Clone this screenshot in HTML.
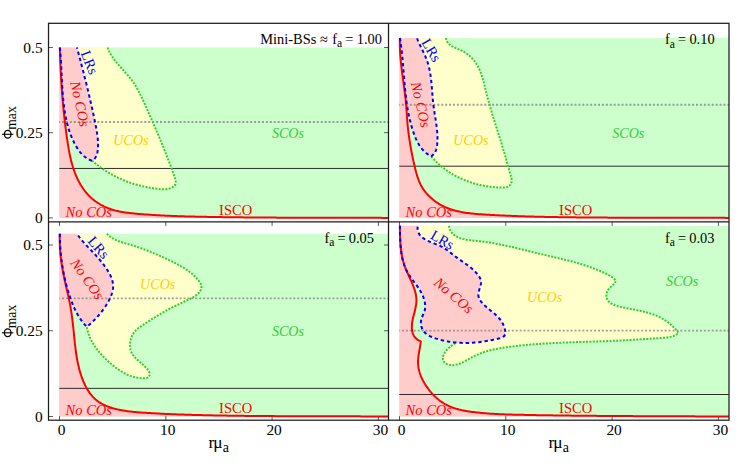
<!DOCTYPE html>
<html><head><meta charset="utf-8"><title>Compact orbits phase diagram</title>
<style>
html,body{margin:0;padding:0;background:#fff;}
body{width:748px;height:467px;overflow:hidden;font-family:"Liberation Serif",serif;}
svg{display:block;}
svg text{font-family:"Liberation Serif",serif;}
</style></head><body>
<svg width="748" height="467" viewBox="0 0 748 467" font-family="Liberation Serif, serif">
<rect width="748" height="467" fill="#fff"/>
<g><rect x="59.3" y="47.5" width="329.2" height="170.4" fill="#ccffcc"/>
<path d="M107.50,47.50 L108.05,48.93 L108.65,50.33 L109.30,51.70 L109.99,53.04 L110.73,54.35 L111.51,55.63 L112.32,56.89 L113.17,58.13 L114.04,59.35 L114.95,60.55 L115.88,61.73 L116.83,62.90 L117.80,64.06 L118.79,65.21 L119.79,66.35 L120.80,67.48 L121.81,68.61 L122.83,69.74 L123.85,70.87 L124.87,72.00 L125.88,73.13 L126.88,74.27 L127.88,75.41 L128.85,76.57 L129.82,77.74 L130.76,78.92 L131.67,80.12 L132.56,81.33 L133.43,82.56 L134.27,83.81 L135.08,85.08 L135.87,86.36 L136.64,87.65 L137.39,88.96 L138.12,90.28 L138.84,91.61 L139.53,92.95 L140.22,94.30 L140.89,95.66 L141.55,97.03 L142.19,98.40 L142.83,99.77 L143.47,101.16 L144.09,102.54 L144.71,103.93 L145.33,105.31 L145.95,106.70 L146.56,108.09 L147.17,109.48 L147.79,110.86 L148.40,112.25 L149.01,113.63 L149.62,115.02 L150.23,116.40 L150.84,117.79 L151.44,119.17 L152.05,120.56 L152.65,121.94 L153.26,123.33 L153.86,124.71 L154.46,126.10 L155.05,127.49 L155.65,128.87 L156.24,130.26 L156.84,131.64 L157.43,133.03 L158.01,134.42 L158.60,135.81 L159.19,137.20 L159.77,138.59 L160.35,139.98 L160.93,141.37 L161.50,142.76 L162.07,144.16 L162.64,145.55 L163.21,146.95 L163.78,148.34 L164.34,149.74 L164.90,151.14 L165.46,152.54 L166.01,153.95 L166.56,155.35 L167.11,156.75 L167.66,158.16 L168.20,159.57 L168.74,160.98 L169.28,162.39 L169.81,163.81 L170.34,165.22 L170.87,166.64 L171.39,168.06 L171.91,169.48 L172.43,170.92 L172.94,172.37 L173.46,173.84 L173.99,175.34 L174.51,176.88 L175.03,178.45 L175.46,180.02 L175.74,181.54 L175.77,182.96 L175.47,184.25 L174.80,185.36 L173.84,186.31 L172.71,187.10 L171.50,187.74 L170.21,188.26 L168.86,188.66 L167.45,188.94 L166.00,189.13 L164.50,189.23 L162.97,189.25 L161.42,189.20 L159.85,189.10 L158.26,188.95 L156.68,188.76 L155.09,188.55 L153.52,188.33 L151.96,188.08 L150.40,187.83 L148.86,187.55 L147.33,187.26 L145.81,186.96 L144.30,186.64 L142.80,186.30 L141.31,185.95 L139.83,185.58 L138.35,185.20 L136.89,184.80 L135.44,184.38 L134.00,183.95 L132.56,183.50 L131.14,183.03 L129.73,182.55 L128.32,182.05 L126.92,181.53 L125.53,181.00 L124.15,180.45 L122.78,179.88 L121.42,179.29 L120.07,178.69 L118.72,178.07 L117.38,177.43 L116.05,176.78 L114.73,176.10 L113.42,175.41 L112.11,174.70 L110.82,173.97 L109.53,173.22 L108.24,172.46 L106.97,171.68 L105.70,170.87 L104.44,170.05 L103.18,169.21 L101.94,168.36 L100.70,167.48 L99.46,166.58 L98.24,165.67 L97.02,164.73 L95.80,163.78 L94.60,162.81 L93.39,161.81 L92.20,160.80 L85.0,100.0 L70.0,47.5 Z" fill="#ffffcc"/>
<path d="M59.80,47.50 L59.96,48.93 L60.11,50.37 L60.25,51.81 L60.38,53.27 L60.50,54.74 L60.62,56.21 L60.73,57.69 L60.83,59.17 L60.93,60.67 L61.02,62.17 L61.11,63.68 L61.19,65.19 L61.27,66.71 L61.35,68.23 L61.42,69.76 L61.49,71.29 L61.57,72.83 L61.64,74.37 L61.71,75.92 L61.78,77.46 L61.86,79.01 L61.93,80.57 L62.01,82.12 L62.09,83.68 L62.18,85.23 L62.27,86.79 L62.36,88.35 L62.46,89.91 L62.57,91.47 L62.68,93.03 L62.80,94.58 L62.92,96.14 L63.06,97.70 L63.20,99.25 L63.35,100.80 L63.52,102.35 L63.69,103.89 L63.87,105.43 L64.07,106.97 L64.28,108.51 L64.50,110.04 L64.73,111.56 L64.98,113.08 L65.24,114.60 L65.52,116.11 L65.82,117.61 L66.13,119.11 L66.45,120.60 L66.80,122.08 L67.16,123.55 L67.54,125.02 L67.94,126.48 L68.36,127.93 L68.81,129.37 L69.27,130.80 L69.75,132.23 L70.26,133.64 L70.78,135.04 L71.34,136.43 L71.91,137.81 L72.51,139.18 L73.13,140.54 L73.79,141.88 L74.46,143.22 L75.16,144.54 L75.90,145.84 L76.65,147.14 L77.44,148.41 L78.27,149.66 L79.13,150.88 L80.04,152.06 L80.99,153.20 L81.99,154.30 L83.05,155.35 L84.16,156.34 L85.33,157.27 L86.56,158.13 L87.86,158.92 L89.23,159.63 L90.68,160.26 L92.20,160.80 L92.20,160.80 L93.42,159.91 L94.45,158.90 L95.32,157.79 L96.03,156.59 L96.61,155.30 L97.07,153.94 L97.41,152.53 L97.67,151.07 L97.85,149.58 L97.96,148.07 L98.03,146.55 L98.05,145.03 L98.04,143.50 L97.98,141.97 L97.89,140.43 L97.77,138.89 L97.61,137.35 L97.43,135.80 L97.23,134.26 L97.00,132.71 L96.75,131.16 L96.48,129.61 L96.20,128.07 L95.91,126.53 L95.61,124.99 L95.30,123.45 L94.98,121.91 L94.67,120.38 L94.35,118.86 L94.03,117.34 L93.71,115.82 L93.38,114.31 L93.06,112.80 L92.73,111.29 L92.40,109.79 L92.07,108.29 L91.74,106.79 L91.41,105.30 L91.07,103.80 L90.73,102.32 L90.39,100.83 L90.05,99.34 L89.71,97.86 L89.36,96.38 L89.01,94.90 L88.66,93.42 L88.31,91.95 L87.96,90.47 L87.61,89.00 L87.25,87.53 L86.89,86.05 L86.53,84.58 L86.17,83.11 L85.80,81.64 L85.44,80.17 L85.07,78.70 L84.70,77.23 L84.33,75.75 L83.95,74.28 L83.58,72.81 L83.20,71.34 L82.82,69.86 L82.44,68.38 L82.06,66.91 L81.67,65.43 L81.28,63.95 L80.89,62.46 L80.50,60.98 L80.11,59.49 L79.72,58.00 L79.32,56.51 L78.92,55.02 L78.52,53.52 L78.12,52.02 L77.71,50.52 L77.31,49.01 L76.90,47.50 Z" fill="#ffcccc"/>
<path d="M59.80,47.50 L59.84,49.01 L59.89,50.51 L59.93,52.02 L59.98,53.52 L60.03,55.03 L60.09,56.53 L60.14,58.04 L60.20,59.54 L60.26,61.05 L60.32,62.55 L60.39,64.06 L60.45,65.56 L60.52,67.07 L60.59,68.57 L60.67,70.07 L60.74,71.58 L60.82,73.08 L60.90,74.59 L60.99,76.09 L61.07,77.59 L61.16,79.10 L61.25,80.60 L61.35,82.10 L61.44,83.60 L61.54,85.11 L61.64,86.61 L61.75,88.11 L61.86,89.61 L61.97,91.11 L62.08,92.62 L62.19,94.12 L62.31,95.62 L62.43,97.12 L62.56,98.62 L62.69,100.12 L62.82,101.62 L62.95,103.12 L63.09,104.62 L63.23,106.11 L63.37,107.61 L63.51,109.11 L63.66,110.61 L63.82,112.11 L63.97,113.60 L64.13,115.10 L64.29,116.59 L64.46,118.09 L64.62,119.59 L64.80,121.08 L64.97,122.58 L65.15,124.07 L65.33,125.56 L65.52,127.06 L65.70,128.55 L65.90,130.04 L66.09,131.53 L66.29,133.03 L66.49,134.52 L66.70,136.01 L66.91,137.50 L67.12,138.99 L67.34,140.48 L67.56,141.96 L67.79,143.45 L68.02,144.94 L68.26,146.42 L68.51,147.91 L68.76,149.39 L69.03,150.87 L69.31,152.35 L69.60,153.83 L69.90,155.30 L70.21,156.77 L70.55,158.24 L70.89,159.70 L71.26,161.17 L71.64,162.62 L72.04,164.08 L72.46,165.53 L72.90,166.98 L73.36,168.42 L73.85,169.85 L74.36,171.28 L74.89,172.71 L75.45,174.12 L76.03,175.53 L76.63,176.92 L77.26,178.30 L77.92,179.67 L78.60,181.03 L79.31,182.36 L80.05,183.69 L80.81,184.99 L81.60,186.27 L82.42,187.53 L83.27,188.78 L84.15,189.99 L85.05,191.19 L85.99,192.36 L86.96,193.50 L87.96,194.61 L88.98,195.70 L90.05,196.75 L91.14,197.77 L92.26,198.77 L93.42,199.72 L94.60,200.65 L95.81,201.54 L97.05,202.40 L98.31,203.22 L99.59,204.01 L100.90,204.77 L102.23,205.49 L103.57,206.18 L104.93,206.83 L106.31,207.44 L107.70,208.02 L109.11,208.56 L110.52,209.06 L111.95,209.53 L113.39,209.96 L114.83,210.37 L116.29,210.74 L117.75,211.08 L119.22,211.40 L120.69,211.69 L122.18,211.96 L123.66,212.20 L125.15,212.43 L126.65,212.64 L128.15,212.84 L129.65,213.02 L131.15,213.18 L132.66,213.34 L134.16,213.49 L135.67,213.63 L137.17,213.76 L138.68,213.90 L140.18,214.02 L141.69,214.15 L143.19,214.26 L144.69,214.38 L146.20,214.49 L147.70,214.60 L149.20,214.70 L150.71,214.81 L152.21,214.90 L153.71,215.00 L155.21,215.09 L156.72,215.18 L158.22,215.27 L159.72,215.35 L161.23,215.43 L162.73,215.51 L164.23,215.58 L165.74,215.65 L167.24,215.72 L168.74,215.79 L170.25,215.85 L171.75,215.92 L173.25,215.98 L174.76,216.04 L176.26,216.09 L177.76,216.14 L179.27,216.20 L180.77,216.25 L182.27,216.29 L183.78,216.34 L185.28,216.38 L186.78,216.43 L188.29,216.47 L189.79,216.51 L191.29,216.55 L192.80,216.58 L194.30,216.62 L195.81,216.65 L197.31,216.69 L198.81,216.72 L200.32,216.75 L201.82,216.78 L203.32,216.81 L204.83,216.84 L206.33,216.87 L207.84,216.89 L209.34,216.92 L210.85,216.95 L212.35,216.97 L213.85,217.00 L215.36,217.02 L216.86,217.04 L218.37,217.07 L219.87,217.09 L221.38,217.11 L222.88,217.13 L224.39,217.16 L225.89,217.18 L227.40,217.20 L228.90,217.22 L230.41,217.24 L231.91,217.25 L233.42,217.27 L234.92,217.29 L236.43,217.31 L237.93,217.32 L239.44,217.34 L240.94,217.36 L242.45,217.37 L243.95,217.39 L245.46,217.40 L246.97,217.42 L248.47,217.43 L249.98,217.44 L251.48,217.46 L252.99,217.47 L254.49,217.48 L256.00,217.50 L257.50,217.51 L259.01,217.52 L260.52,217.53 L262.02,217.54 L263.53,217.55 L265.03,217.56 L266.54,217.57 L268.04,217.58 L269.55,217.59 L271.06,217.60 L272.56,217.61 L274.07,217.61 L275.57,217.62 L277.08,217.63 L278.59,217.64 L280.09,217.64 L281.60,217.65 L283.10,217.66 L284.61,217.66 L286.12,217.67 L287.62,217.68 L289.13,217.68 L290.63,217.69 L292.14,217.69 L293.65,217.70 L295.15,217.70 L296.66,217.71 L298.16,217.71 L299.67,217.72 L301.18,217.72 L302.68,217.72 L304.19,217.73 L305.70,217.73 L307.20,217.74 L308.71,217.74 L310.21,217.74 L311.72,217.75 L313.23,217.75 L314.73,217.75 L316.24,217.75 L317.74,217.76 L319.25,217.76 L320.76,217.76 L322.26,217.76 L323.77,217.77 L325.27,217.77 L326.78,217.77 L328.29,217.77 L329.79,217.78 L331.30,217.78 L332.80,217.78 L334.31,217.78 L335.82,217.78 L337.32,217.79 L338.83,217.79 L340.33,217.79 L341.84,217.79 L343.34,217.80 L344.85,217.80 L346.36,217.80 L347.86,217.80 L349.37,217.80 L350.87,217.81 L352.38,217.81 L353.88,217.81 L355.39,217.81 L356.89,217.82 L358.40,217.82 L359.91,217.82 L361.41,217.82 L362.92,217.83 L364.42,217.83 L365.93,217.83 L367.43,217.84 L368.94,217.84 L370.44,217.84 L371.95,217.85 L373.45,217.85 L374.96,217.86 L376.46,217.86 L377.97,217.86 L379.47,217.87 L380.98,217.87 L382.48,217.88 L383.99,217.88 L385.49,217.89 L387.00,217.89 L388.50,217.90 L388.5,217.9 L59.3,217.9 L59.3,47.5 Z" fill="#ffcccc"/></g>
<g><rect x="399.3" y="38.0" width="329.7" height="179.9" fill="#ccffcc"/>
<path d="M445.80,38.00 L446.30,39.70 L446.95,41.19 L447.73,42.49 L448.64,43.63 L449.66,44.62 L450.77,45.49 L451.97,46.26 L453.24,46.95 L454.56,47.58 L455.93,48.18 L457.33,48.76 L458.74,49.36 L460.16,49.98 L461.57,50.66 L462.96,51.39 L464.32,52.18 L465.66,53.03 L466.96,53.92 L468.22,54.86 L469.43,55.84 L470.59,56.87 L471.70,57.93 L472.74,59.03 L473.72,60.16 L474.65,61.33 L475.52,62.52 L476.34,63.75 L477.11,65.00 L477.83,66.28 L478.51,67.58 L479.15,68.91 L479.76,70.26 L480.32,71.63 L480.86,73.01 L481.36,74.42 L481.84,75.83 L482.29,77.27 L482.72,78.71 L483.14,80.17 L483.54,81.63 L483.92,83.10 L484.29,84.58 L484.66,86.06 L485.02,87.55 L485.38,89.03 L485.74,90.52 L486.11,92.00 L486.48,93.48 L486.85,94.96 L487.24,96.44 L487.62,97.91 L488.02,99.38 L488.42,100.84 L488.82,102.30 L489.23,103.76 L489.65,105.22 L490.06,106.68 L490.49,108.13 L490.91,109.58 L491.34,111.03 L491.77,112.47 L492.21,113.92 L492.65,115.36 L493.09,116.80 L493.54,118.24 L493.98,119.68 L494.43,121.11 L494.88,122.55 L495.33,123.98 L495.78,125.42 L496.23,126.85 L496.69,128.28 L497.14,129.71 L497.60,131.14 L498.05,132.58 L498.50,134.01 L498.95,135.44 L499.41,136.87 L499.86,138.30 L500.31,139.73 L500.75,141.16 L501.20,142.59 L501.64,144.02 L502.09,145.45 L502.52,146.89 L502.96,148.32 L503.39,149.76 L503.82,151.20 L504.25,152.63 L504.67,154.07 L505.09,155.51 L505.50,156.96 L505.91,158.40 L506.31,159.85 L506.71,161.30 L507.11,162.75 L507.49,164.20 L507.88,165.66 L508.28,167.12 L508.68,168.60 L509.10,170.09 L509.54,171.59 L510.00,173.12 L510.48,174.66 L510.95,176.21 L511.35,177.75 L511.62,179.27 L511.69,180.75 L511.52,182.17 L511.10,183.49 L510.44,184.66 L509.56,185.61 L508.48,186.34 L507.23,186.88 L505.84,187.26 L504.34,187.49 L502.76,187.60 L501.12,187.61 L499.46,187.56 L497.80,187.45 L496.17,187.33 L494.59,187.20 L493.04,187.05 L491.52,186.89 L490.03,186.71 L488.55,186.52 L487.10,186.31 L485.65,186.08 L484.20,185.82 L482.76,185.55 L481.31,185.25 L479.86,184.93 L478.42,184.59 L476.97,184.22 L475.53,183.83 L474.09,183.42 L472.66,182.99 L471.22,182.53 L469.80,182.06 L468.37,181.56 L466.96,181.03 L465.55,180.49 L464.14,179.92 L462.75,179.33 L461.36,178.72 L459.98,178.09 L458.61,177.43 L457.25,176.75 L455.91,176.05 L454.57,175.33 L453.25,174.59 L451.94,173.82 L450.64,173.03 L449.36,172.22 L448.09,171.39 L446.84,170.54 L445.60,169.66 L444.38,168.76 L443.18,167.85 L442.00,166.90 L440.83,165.94 L439.69,164.96 L438.56,163.95 L437.46,162.92 L436.37,161.87 L435.31,160.80 L434.27,159.71 L433.26,158.59 L432.27,157.46 L431.30,156.30 L425.0,100.0 L410.0,38.0 Z" fill="#ffffcc"/>
<path d="M399.90,38.00 L400.14,39.47 L400.38,40.95 L400.60,42.43 L400.81,43.92 L401.01,45.41 L401.21,46.90 L401.40,48.40 L401.58,49.90 L401.75,51.40 L401.91,52.91 L402.07,54.42 L402.23,55.93 L402.37,57.45 L402.52,58.96 L402.66,60.48 L402.79,62.01 L402.92,63.53 L403.05,65.06 L403.18,66.59 L403.30,68.11 L403.42,69.65 L403.55,71.18 L403.67,72.71 L403.79,74.24 L403.91,75.78 L404.03,77.31 L404.16,78.85 L404.28,80.38 L404.41,81.92 L404.55,83.45 L404.68,84.99 L404.82,86.52 L404.96,88.06 L405.11,89.59 L405.26,91.12 L405.42,92.65 L405.59,94.18 L405.76,95.71 L405.94,97.24 L406.13,98.76 L406.32,100.28 L406.53,101.80 L406.74,103.32 L406.96,104.84 L407.19,106.35 L407.44,107.86 L407.69,109.37 L407.96,110.87 L408.24,112.37 L408.53,113.87 L408.83,115.36 L409.15,116.85 L409.48,118.34 L409.82,119.82 L410.18,121.29 L410.56,122.77 L410.95,124.23 L411.36,125.70 L411.78,127.15 L412.23,128.61 L412.69,130.06 L413.17,131.50 L413.66,132.93 L414.18,134.36 L414.72,135.78 L415.28,137.19 L415.87,138.59 L416.49,139.96 L417.15,141.32 L417.84,142.65 L418.57,143.95 L419.34,145.22 L420.15,146.46 L421.01,147.66 L421.92,148.82 L422.88,149.94 L423.90,151.01 L424.97,152.03 L426.10,153.00 L427.30,153.92 L428.57,154.78 L429.90,155.57 L431.30,156.30 L431.30,156.30 L432.54,155.36 L433.59,154.31 L434.48,153.17 L435.22,151.95 L435.82,150.65 L436.30,149.30 L436.68,147.89 L436.96,146.44 L437.16,144.97 L437.31,143.47 L437.40,141.97 L437.46,140.46 L437.48,138.95 L437.47,137.44 L437.43,135.92 L437.36,134.41 L437.26,132.89 L437.14,131.37 L437.00,129.85 L436.83,128.32 L436.65,126.80 L436.45,125.27 L436.24,123.75 L436.02,122.22 L435.79,120.69 L435.55,119.16 L435.31,117.63 L435.06,116.10 L434.82,114.57 L434.58,113.04 L434.34,111.50 L434.10,109.97 L433.88,108.44 L433.67,106.91 L433.47,105.38 L433.28,103.85 L433.11,102.31 L432.95,100.78 L432.81,99.25 L432.67,97.73 L432.54,96.20 L432.42,94.67 L432.30,93.15 L432.18,91.63 L432.06,90.11 L431.94,88.59 L431.81,87.08 L431.69,85.56 L431.55,84.05 L431.41,82.55 L431.25,81.04 L431.08,79.54 L430.90,78.05 L430.70,76.55 L430.49,75.07 L430.25,73.58 L430.00,72.10 L429.71,70.63 L429.41,69.16 L429.08,67.69 L428.72,66.23 L428.33,64.77 L427.90,63.32 L427.44,61.88 L426.95,60.44 L426.42,59.01 L425.85,57.59 L425.25,56.17 L424.62,54.75 L423.96,53.34 L423.30,51.94 L422.62,50.53 L421.93,49.14 L421.25,47.74 L420.58,46.35 L419.92,44.95 L419.27,43.56 L418.65,42.17 L418.06,40.78 L417.51,39.39 L417.00,38.00 Z" fill="#ffcccc"/>
<path d="M399.90,38.00 L399.85,39.52 L399.83,41.05 L399.82,42.57 L399.82,44.08 L399.84,45.60 L399.87,47.11 L399.92,48.62 L399.99,50.13 L400.06,51.64 L400.15,53.15 L400.25,54.65 L400.36,56.15 L400.48,57.66 L400.61,59.16 L400.75,60.65 L400.90,62.15 L401.05,63.65 L401.22,65.14 L401.39,66.64 L401.56,68.13 L401.74,69.63 L401.93,71.12 L402.12,72.61 L402.32,74.10 L402.51,75.59 L402.72,77.08 L402.92,78.57 L403.12,80.07 L403.33,81.56 L403.53,83.05 L403.73,84.54 L403.94,86.03 L404.14,87.52 L404.33,89.01 L404.53,90.51 L404.72,92.00 L404.91,93.49 L405.09,94.99 L405.27,96.49 L405.44,97.98 L405.60,99.48 L405.76,100.98 L405.91,102.48 L406.05,103.98 L406.18,105.49 L406.30,106.99 L406.42,108.50 L406.53,110.01 L406.63,111.51 L406.73,113.02 L406.83,114.53 L406.94,116.04 L407.04,117.54 L407.15,119.05 L407.26,120.55 L407.38,122.06 L407.51,123.56 L407.65,125.05 L407.80,126.55 L407.95,128.04 L408.12,129.54 L408.29,131.03 L408.47,132.52 L408.66,134.01 L408.85,135.49 L409.06,136.98 L409.27,138.46 L409.49,139.94 L409.72,141.43 L409.95,142.91 L410.20,144.39 L410.45,145.87 L410.70,147.35 L410.97,148.82 L411.24,150.30 L411.52,151.78 L411.81,153.26 L412.10,154.73 L412.41,156.21 L412.71,157.69 L413.03,159.16 L413.35,160.64 L413.68,162.12 L414.01,163.59 L414.36,165.07 L414.70,166.55 L415.06,168.03 L415.43,169.51 L415.81,170.98 L416.20,172.45 L416.62,173.92 L417.05,175.38 L417.51,176.83 L418.00,178.27 L418.51,179.70 L419.06,181.11 L419.65,182.50 L420.29,183.88 L420.97,185.22 L421.70,186.54 L422.47,187.83 L423.29,189.09 L424.15,190.32 L425.05,191.53 L426.00,192.70 L426.97,193.84 L427.99,194.96 L429.04,196.04 L430.12,197.09 L431.24,198.11 L432.38,199.10 L433.55,200.05 L434.75,200.97 L435.97,201.86 L437.22,202.71 L438.49,203.52 L439.78,204.30 L441.09,205.05 L442.41,205.75 L443.76,206.42 L445.11,207.06 L446.48,207.65 L447.86,208.21 L449.25,208.74 L450.66,209.24 L452.08,209.70 L453.50,210.13 L454.94,210.54 L456.39,210.91 L457.84,211.26 L459.31,211.59 L460.78,211.89 L462.26,212.17 L463.75,212.43 L465.24,212.67 L466.74,212.89 L468.24,213.09 L469.75,213.28 L471.26,213.45 L472.78,213.61 L474.29,213.76 L475.81,213.89 L477.34,214.02 L478.86,214.13 L480.38,214.24 L481.91,214.35 L483.43,214.45 L484.95,214.55 L486.48,214.64 L488.00,214.73 L489.52,214.82 L491.03,214.91 L492.55,215.00 L494.07,215.08 L495.58,215.16 L497.09,215.24 L498.60,215.32 L500.12,215.39 L501.63,215.46 L503.14,215.53 L504.64,215.60 L506.15,215.67 L507.66,215.73 L509.17,215.80 L510.67,215.86 L512.18,215.92 L513.68,215.98 L515.18,216.03 L516.69,216.09 L518.19,216.14 L519.69,216.19 L521.19,216.24 L522.69,216.29 L524.19,216.34 L525.69,216.39 L527.20,216.43 L528.70,216.47 L530.19,216.52 L531.69,216.56 L533.19,216.60 L534.69,216.63 L536.19,216.67 L537.69,216.71 L539.19,216.74 L540.69,216.78 L542.19,216.81 L543.69,216.84 L545.19,216.88 L546.69,216.91 L548.19,216.94 L549.69,216.97 L551.19,217.00 L552.69,217.02 L554.19,217.05 L555.70,217.08 L557.20,217.10 L558.70,217.13 L560.20,217.15 L561.71,217.18 L563.21,217.20 L564.71,217.22 L566.22,217.24 L567.72,217.26 L569.22,217.28 L570.73,217.30 L572.23,217.32 L573.74,217.34 L575.24,217.36 L576.75,217.38 L578.25,217.40 L579.76,217.41 L581.26,217.43 L582.77,217.44 L584.27,217.46 L585.78,217.47 L587.29,217.49 L588.79,217.50 L590.30,217.51 L591.81,217.52 L593.31,217.54 L594.82,217.55 L596.33,217.56 L597.84,217.57 L599.34,217.58 L600.85,217.59 L602.36,217.60 L603.87,217.61 L605.38,217.62 L606.88,217.62 L608.39,217.63 L609.90,217.64 L611.41,217.65 L612.92,217.65 L614.43,217.66 L615.94,217.67 L617.45,217.67 L618.95,217.68 L620.46,217.68 L621.97,217.69 L623.48,217.69 L624.99,217.70 L626.50,217.70 L628.01,217.70 L629.52,217.71 L631.03,217.71 L632.54,217.71 L634.05,217.72 L635.56,217.72 L637.07,217.72 L638.58,217.72 L640.09,217.73 L641.60,217.73 L643.10,217.73 L644.61,217.73 L646.12,217.73 L647.63,217.74 L649.14,217.74 L650.65,217.74 L652.16,217.74 L653.67,217.74 L655.18,217.74 L656.69,217.74 L658.20,217.74 L659.71,217.74 L661.22,217.74 L662.73,217.75 L664.24,217.75 L665.75,217.75 L667.25,217.75 L668.76,217.75 L670.27,217.75 L671.78,217.75 L673.29,217.75 L674.80,217.75 L676.31,217.75 L677.81,217.75 L679.32,217.75 L680.83,217.76 L682.34,217.76 L683.85,217.76 L685.35,217.76 L686.86,217.76 L688.37,217.76 L689.88,217.77 L691.38,217.77 L692.89,217.77 L694.40,217.77 L695.90,217.78 L697.41,217.78 L698.92,217.78 L700.42,217.78 L701.93,217.79 L703.44,217.79 L704.94,217.80 L706.45,217.80 L707.95,217.80 L709.46,217.81 L710.96,217.81 L712.47,217.82 L713.97,217.83 L715.47,217.83 L716.98,217.84 L718.48,217.84 L719.98,217.85 L721.49,217.86 L722.99,217.87 L724.49,217.87 L726.00,217.88 L727.50,217.89 L729.00,217.90 L729.0,217.9 L399.3,217.9 L399.3,38.0 Z" fill="#ffcccc"/></g>
<g><rect x="59.3" y="233.7" width="329.2" height="182.8" fill="#ccffcc"/>
<path d="M106.90,233.70 L107.98,234.82 L109.11,235.85 L110.29,236.79 L111.51,237.65 L112.77,238.44 L114.07,239.16 L115.41,239.83 L116.77,240.44 L118.16,241.00 L119.57,241.52 L121.01,242.01 L122.45,242.48 L123.91,242.92 L125.38,243.35 L126.85,243.77 L128.32,244.19 L129.78,244.61 L131.25,245.05 L132.70,245.49 L134.15,245.95 L135.60,246.42 L137.04,246.89 L138.48,247.38 L139.91,247.87 L141.33,248.38 L142.75,248.89 L144.17,249.41 L145.58,249.94 L146.99,250.48 L148.40,251.03 L149.80,251.59 L151.19,252.15 L152.59,252.72 L153.98,253.30 L155.37,253.88 L156.75,254.48 L158.13,255.08 L159.51,255.68 L160.88,256.30 L162.26,256.91 L163.63,257.54 L165.00,258.17 L166.36,258.81 L167.73,259.45 L169.09,260.10 L170.45,260.75 L171.81,261.41 L173.16,262.08 L174.51,262.75 L175.86,263.44 L177.20,264.14 L178.53,264.85 L179.85,265.58 L181.16,266.32 L182.46,267.09 L183.75,267.87 L185.02,268.68 L186.28,269.52 L187.52,270.37 L188.75,271.26 L189.95,272.17 L191.14,273.12 L192.31,274.10 L193.45,275.11 L194.57,276.16 L195.66,277.25 L196.73,278.38 L197.78,279.54 L198.79,280.75 L199.72,282.01 L200.52,283.30 L201.11,284.63 L201.44,286.00 L201.45,287.41 L201.16,288.82 L200.62,290.21 L199.87,291.53 L198.95,292.76 L197.92,293.88 L196.78,294.88 L195.56,295.79 L194.27,296.63 L192.92,297.40 L191.54,298.13 L190.14,298.82 L188.74,299.50 L187.34,300.17 L185.95,300.83 L184.57,301.49 L183.20,302.15 L181.82,302.80 L180.46,303.45 L179.10,304.10 L177.75,304.75 L176.40,305.40 L175.05,306.06 L173.71,306.71 L172.38,307.38 L171.05,308.05 L169.72,308.73 L168.40,309.42 L167.08,310.12 L165.76,310.83 L164.45,311.56 L163.14,312.29 L161.83,313.05 L160.53,313.81 L159.23,314.59 L157.93,315.38 L156.64,316.17 L155.35,316.98 L154.06,317.79 L152.77,318.61 L151.49,319.44 L150.22,320.26 L148.94,321.09 L147.67,321.93 L146.41,322.76 L145.15,323.59 L143.89,324.42 L142.63,325.24 L141.39,326.07 L140.15,326.90 L138.94,327.75 L137.76,328.65 L136.64,329.60 L135.58,330.64 L134.59,331.77 L133.69,333.00 L132.87,334.33 L132.15,335.73 L131.52,337.20 L130.99,338.72 L130.57,340.27 L130.25,341.84 L130.04,343.41 L129.95,344.98 L129.97,346.52 L130.12,348.01 L130.38,349.46 L130.78,350.83 L131.30,352.13 L131.93,353.37 L132.67,354.55 L133.50,355.69 L134.42,356.79 L135.41,357.86 L136.47,358.91 L137.58,359.96 L138.74,361.00 L139.94,362.06 L141.16,363.13 L142.40,364.22 L143.64,365.36 L144.88,366.54 L146.09,367.76 L147.21,369.03 L148.19,370.31 L148.97,371.61 L149.49,372.90 L149.70,374.17 L149.54,375.40 L149.03,376.48 L148.17,377.32 L147.00,377.86 L145.60,378.15 L144.05,378.26 L142.44,378.24 L140.84,378.15 L139.26,377.99 L137.72,377.77 L136.20,377.49 L134.70,377.16 L133.23,376.77 L131.78,376.32 L130.35,375.83 L128.95,375.29 L127.56,374.71 L126.20,374.08 L124.86,373.40 L123.53,372.69 L122.23,371.95 L120.94,371.17 L119.67,370.35 L118.42,369.51 L117.18,368.63 L115.96,367.74 L114.75,366.81 L113.56,365.87 L112.38,364.91 L111.21,363.93 L110.06,362.93 L108.91,361.92 L107.78,360.90 L106.67,359.86 L105.56,358.82 L104.48,357.75 L103.41,356.67 L102.36,355.58 L101.33,354.47 L100.33,353.35 L99.34,352.20 L98.38,351.05 L97.45,349.87 L96.54,348.68 L95.67,347.46 L94.82,346.23 L94.00,344.98 L93.22,343.71 L92.46,342.43 L91.75,341.12 L91.07,339.78 L90.43,338.43 L89.82,337.06 L89.26,335.66 L88.74,334.25 L88.26,332.80 L87.82,331.34 L87.44,329.85 L87.09,328.34 L86.80,326.80 L90.0,290.0 L70.0,233.7 Z" fill="#ffffcc"/>
<path d="M59.80,233.70 L59.82,235.24 L59.85,236.78 L59.89,238.32 L59.94,239.85 L59.99,241.39 L60.06,242.92 L60.14,244.44 L60.23,245.97 L60.33,247.49 L60.43,249.01 L60.55,250.53 L60.68,252.05 L60.82,253.56 L60.97,255.07 L61.13,256.58 L61.31,258.09 L61.49,259.59 L61.68,261.10 L61.89,262.60 L62.10,264.10 L62.33,265.59 L62.57,267.09 L62.81,268.58 L63.08,270.07 L63.35,271.56 L63.63,273.05 L63.93,274.54 L64.23,276.02 L64.55,277.50 L64.88,278.98 L65.23,280.46 L65.58,281.94 L65.95,283.41 L66.33,284.89 L66.72,286.36 L67.13,287.83 L67.55,289.30 L67.98,290.77 L68.42,292.23 L68.87,293.70 L69.34,295.16 L69.83,296.62 L70.32,298.07 L70.84,299.52 L71.37,300.97 L71.92,302.40 L72.48,303.83 L73.07,305.25 L73.67,306.66 L74.30,308.05 L74.95,309.44 L75.62,310.81 L76.31,312.16 L77.03,313.50 L77.77,314.82 L78.55,316.12 L79.34,317.40 L80.17,318.66 L81.02,319.90 L81.91,321.11 L82.82,322.30 L83.77,323.47 L84.74,324.61 L85.75,325.72 L86.80,326.80 L86.80,326.80 L87.92,325.87 L89.04,324.92 L90.15,323.94 L91.26,322.94 L92.36,321.91 L93.45,320.86 L94.53,319.78 L95.59,318.68 L96.65,317.56 L97.69,316.41 L98.72,315.25 L99.72,314.06 L100.71,312.86 L101.68,311.63 L102.63,310.39 L103.55,309.12 L104.45,307.84 L105.33,306.54 L106.17,305.22 L106.99,303.89 L107.78,302.54 L108.54,301.18 L109.26,299.80 L109.94,298.41 L110.58,297.01 L111.17,295.59 L111.69,294.17 L112.15,292.74 L112.53,291.30 L112.83,289.87 L113.03,288.42 L113.14,286.98 L113.14,285.54 L113.03,284.11 L112.82,282.67 L112.51,281.24 L112.12,279.82 L111.64,278.41 L111.09,277.00 L110.46,275.61 L109.78,274.22 L109.04,272.85 L108.25,271.49 L107.43,270.15 L106.56,268.82 L105.67,267.51 L104.76,266.22 L103.83,264.95 L102.88,263.70 L101.92,262.46 L100.95,261.25 L99.96,260.05 L98.96,258.86 L97.95,257.69 L96.94,256.54 L95.91,255.40 L94.88,254.28 L93.84,253.17 L92.79,252.06 L91.74,250.97 L90.70,249.88 L89.65,248.80 L88.60,247.72 L87.56,246.63 L86.53,245.53 L85.50,244.43 L84.48,243.32 L83.48,242.20 L82.49,241.05 L81.51,239.89 L80.55,238.71 L79.60,237.50 L78.68,236.26 L77.78,235.00 L76.90,233.70 Z" fill="#ffcccc"/>
<path d="M59.80,233.70 L59.75,235.22 L59.71,236.75 L59.69,238.27 L59.69,239.79 L59.71,241.30 L59.74,242.82 L59.79,244.33 L59.85,245.84 L59.93,247.35 L60.02,248.85 L60.13,250.36 L60.25,251.86 L60.38,253.36 L60.53,254.86 L60.69,256.36 L60.86,257.85 L61.05,259.35 L61.24,260.84 L61.45,262.33 L61.67,263.82 L61.90,265.31 L62.14,266.79 L62.38,268.28 L62.64,269.76 L62.91,271.24 L63.18,272.72 L63.47,274.20 L63.76,275.68 L64.06,277.16 L64.36,278.63 L64.67,280.11 L64.99,281.58 L65.31,283.05 L65.64,284.53 L65.98,286.00 L66.32,287.46 L66.66,288.93 L67.00,290.40 L67.35,291.87 L67.69,293.33 L68.04,294.80 L68.37,296.27 L68.69,297.74 L69.01,299.22 L69.31,300.69 L69.60,302.17 L69.89,303.65 L70.16,305.14 L70.43,306.62 L70.68,308.11 L70.93,309.59 L71.17,311.08 L71.40,312.57 L71.62,314.06 L71.84,315.56 L72.04,317.05 L72.24,318.55 L72.43,320.04 L72.61,321.54 L72.79,323.03 L72.95,324.53 L73.12,326.03 L73.28,327.52 L73.43,329.02 L73.58,330.52 L73.73,332.02 L73.88,333.52 L74.03,335.01 L74.17,336.51 L74.32,338.01 L74.47,339.51 L74.63,341.00 L74.79,342.50 L74.95,343.99 L75.12,345.48 L75.29,346.98 L75.47,348.47 L75.67,349.96 L75.87,351.45 L76.08,352.94 L76.30,354.42 L76.53,355.91 L76.78,357.39 L77.03,358.87 L77.31,360.35 L77.60,361.83 L77.90,363.31 L78.22,364.78 L78.56,366.25 L78.92,367.72 L79.30,369.19 L79.70,370.66 L80.12,372.12 L80.56,373.58 L81.03,375.04 L81.52,376.49 L82.04,377.94 L82.58,379.38 L83.15,380.82 L83.74,382.24 L84.37,383.64 L85.02,385.03 L85.71,386.40 L86.43,387.75 L87.18,389.07 L87.97,390.37 L88.79,391.63 L89.64,392.86 L90.54,394.06 L91.47,395.22 L92.44,396.34 L93.45,397.41 L94.50,398.44 L95.60,399.42 L96.73,400.35 L97.91,401.23 L99.12,402.07 L100.37,402.86 L101.65,403.60 L102.96,404.31 L104.30,404.97 L105.67,405.60 L107.06,406.18 L108.47,406.73 L109.91,407.25 L111.36,407.73 L112.82,408.18 L114.30,408.60 L115.79,408.99 L117.29,409.35 L118.79,409.68 L120.30,409.99 L121.81,410.28 L123.32,410.55 L124.83,410.80 L126.34,411.02 L127.84,411.23 L129.35,411.43 L130.85,411.60 L132.35,411.77 L133.85,411.92 L135.35,412.06 L136.85,412.19 L138.35,412.31 L139.84,412.43 L141.34,412.54 L142.84,412.64 L144.34,412.74 L145.84,412.83 L147.34,412.93 L148.84,413.02 L150.34,413.11 L151.84,413.20 L153.34,413.28 L154.84,413.37 L156.34,413.45 L157.85,413.53 L159.35,413.60 L160.85,413.68 L162.35,413.75 L163.86,413.83 L165.36,413.90 L166.87,413.96 L168.37,414.03 L169.88,414.09 L171.38,414.16 L172.89,414.22 L174.39,414.28 L175.90,414.34 L177.41,414.39 L178.91,414.45 L180.42,414.50 L181.93,414.55 L183.43,414.60 L184.94,414.65 L186.45,414.70 L187.96,414.75 L189.46,414.79 L190.97,414.84 L192.48,414.88 L193.99,414.92 L195.50,414.96 L197.00,415.00 L198.51,415.04 L200.02,415.08 L201.53,415.12 L203.04,415.15 L204.55,415.19 L206.05,415.22 L207.56,415.26 L209.07,415.29 L210.58,415.32 L212.09,415.35 L213.60,415.38 L215.10,415.41 L216.61,415.44 L218.12,415.47 L219.63,415.50 L221.14,415.53 L222.65,415.55 L224.15,415.58 L225.66,415.60 L227.17,415.63 L228.68,415.65 L230.19,415.68 L231.69,415.70 L233.20,415.72 L234.71,415.74 L236.22,415.76 L237.73,415.78 L239.23,415.80 L240.74,415.82 L242.25,415.84 L243.76,415.86 L245.27,415.88 L246.77,415.89 L248.28,415.91 L249.79,415.93 L251.30,415.94 L252.80,415.96 L254.31,415.97 L255.82,415.99 L257.33,416.00 L258.84,416.01 L260.34,416.03 L261.85,416.04 L263.36,416.05 L264.87,416.06 L266.37,416.07 L267.88,416.08 L269.39,416.09 L270.90,416.10 L272.40,416.11 L273.91,416.12 L275.42,416.13 L276.93,416.14 L278.44,416.15 L279.94,416.16 L281.45,416.16 L282.96,416.17 L284.47,416.18 L285.97,416.19 L287.48,416.19 L288.99,416.20 L290.50,416.21 L292.00,416.21 L293.51,416.22 L295.02,416.22 L296.53,416.23 L298.03,416.23 L299.54,416.24 L301.05,416.24 L302.56,416.25 L304.06,416.25 L305.57,416.25 L307.08,416.26 L308.59,416.26 L310.09,416.27 L311.60,416.27 L313.11,416.27 L314.62,416.28 L316.12,416.28 L317.63,416.28 L319.14,416.28 L320.65,416.29 L322.15,416.29 L323.66,416.29 L325.17,416.30 L326.68,416.30 L328.18,416.30 L329.69,416.30 L331.20,416.31 L332.71,416.31 L334.21,416.31 L335.72,416.32 L337.23,416.32 L338.74,416.32 L340.25,416.32 L341.75,416.33 L343.26,416.33 L344.77,416.33 L346.28,416.34 L347.78,416.34 L349.29,416.34 L350.80,416.35 L352.31,416.35 L353.82,416.35 L355.32,416.36 L356.83,416.36 L358.34,416.37 L359.85,416.37 L361.35,416.38 L362.86,416.38 L364.37,416.39 L365.88,416.39 L367.39,416.40 L368.89,416.40 L370.40,416.41 L371.91,416.41 L373.42,416.42 L374.93,416.43 L376.43,416.43 L377.94,416.44 L379.45,416.45 L380.96,416.46 L382.47,416.46 L383.98,416.47 L385.48,416.48 L386.99,416.49 L388.50,416.50 L388.5,416.5 L59.3,416.5 L59.3,233.7 Z" fill="#ffcccc"/></g>
<g><rect x="399.3" y="225.8" width="329.7" height="190.7" fill="#ccffcc"/>
<path d="M449.00,225.80 L449.29,227.49 L449.74,229.04 L450.34,230.46 L451.07,231.74 L451.92,232.90 L452.89,233.95 L453.95,234.89 L455.10,235.73 L456.33,236.47 L457.63,237.13 L458.98,237.71 L460.37,238.22 L461.80,238.66 L463.25,239.05 L464.73,239.38 L466.23,239.67 L467.75,239.92 L469.28,240.14 L470.83,240.34 L472.38,240.51 L473.94,240.68 L475.50,240.83 L477.06,240.99 L478.62,241.16 L480.16,241.34 L481.70,241.52 L483.24,241.72 L484.77,241.93 L486.29,242.15 L487.81,242.37 L489.33,242.61 L490.83,242.85 L492.34,243.10 L493.84,243.36 L495.33,243.63 L496.82,243.90 L498.31,244.19 L499.80,244.47 L501.28,244.77 L502.75,245.07 L504.23,245.38 L505.70,245.69 L507.17,246.01 L508.64,246.33 L510.10,246.66 L511.56,246.99 L513.03,247.32 L514.49,247.66 L515.95,248.00 L517.40,248.35 L518.86,248.70 L520.32,249.05 L521.77,249.40 L523.23,249.75 L524.69,250.11 L526.15,250.47 L527.60,250.82 L529.06,251.18 L530.52,251.54 L531.99,251.90 L533.45,252.26 L534.91,252.61 L536.38,252.97 L537.85,253.32 L539.32,253.68 L540.79,254.03 L542.27,254.38 L543.75,254.73 L545.23,255.08 L546.71,255.42 L548.20,255.77 L549.68,256.11 L551.17,256.46 L552.66,256.81 L554.15,257.16 L555.64,257.51 L557.13,257.86 L558.61,258.22 L560.10,258.57 L561.59,258.94 L563.08,259.30 L564.56,259.67 L566.05,260.04 L567.53,260.42 L569.01,260.80 L570.49,261.19 L571.97,261.58 L573.44,261.98 L574.91,262.39 L576.38,262.80 L577.84,263.22 L579.30,263.65 L580.76,264.09 L582.21,264.53 L583.66,264.99 L585.11,265.45 L586.55,265.92 L587.98,266.41 L589.41,266.90 L590.83,267.40 L592.25,267.92 L593.66,268.45 L595.07,268.99 L596.46,269.54 L597.86,270.10 L599.24,270.68 L600.62,271.27 L601.99,271.87 L603.35,272.49 L604.70,273.12 L606.05,273.77 L607.38,274.43 L608.70,275.13 L610.00,275.86 L611.26,276.65 L612.49,277.49 L613.68,278.41 L614.82,279.41 L615.90,280.50 L615.90,280.50 L615.36,281.91 L614.55,283.19 L613.55,284.37 L612.41,285.48 L611.22,286.58 L610.03,287.69 L608.92,288.85 L607.94,290.10 L607.18,291.48 L606.67,293.00 L606.42,294.59 L606.40,296.15 L606.61,297.59 L607.01,298.90 L607.61,300.08 L608.38,301.14 L609.30,302.10 L610.37,302.95 L611.56,303.72 L612.86,304.40 L614.26,305.01 L615.74,305.55 L617.28,306.04 L618.87,306.48 L620.49,306.88 L622.13,307.25 L623.78,307.60 L625.41,307.94 L627.03,308.26 L628.64,308.58 L630.24,308.89 L631.82,309.20 L633.39,309.50 L634.95,309.81 L636.50,310.12 L638.03,310.43 L639.56,310.75 L641.06,311.08 L642.56,311.42 L644.05,311.77 L645.52,312.14 L646.98,312.52 L648.42,312.93 L649.86,313.35 L651.28,313.80 L652.69,314.28 L654.09,314.79 L655.47,315.32 L656.84,315.89 L658.20,316.49 L659.55,317.13 L660.89,317.81 L662.21,318.53 L663.52,319.30 L664.82,320.11 L666.11,320.96 L667.38,321.87 L668.64,322.83 L669.88,323.83 L671.10,324.87 L672.28,325.95 L673.43,327.05 L674.54,328.18 L675.59,329.32 L676.59,330.48 L677.53,331.64 L678.40,332.80 L678.40,332.80 L677.27,333.83 L676.06,334.69 L674.78,335.42 L673.45,336.01 L672.07,336.49 L670.64,336.87 L669.18,337.16 L667.68,337.39 L666.17,337.57 L664.64,337.71 L663.10,337.82 L661.57,337.93 L660.03,338.04 L658.50,338.15 L656.98,338.25 L655.45,338.36 L653.93,338.46 L652.41,338.57 L650.89,338.67 L649.38,338.77 L647.86,338.88 L646.35,338.98 L644.84,339.08 L643.33,339.17 L641.83,339.27 L640.32,339.37 L638.82,339.46 L637.32,339.56 L635.82,339.65 L634.32,339.74 L632.82,339.83 L631.32,339.92 L629.82,340.01 L628.32,340.09 L626.83,340.17 L625.33,340.26 L623.83,340.34 L622.33,340.41 L620.83,340.49 L619.34,340.56 L617.84,340.64 L616.34,340.71 L614.84,340.77 L613.33,340.84 L611.83,340.90 L610.33,340.97 L608.82,341.03 L607.32,341.08 L605.82,341.14 L604.31,341.20 L602.80,341.25 L601.30,341.31 L599.79,341.36 L598.28,341.41 L596.77,341.46 L595.26,341.51 L593.75,341.56 L592.24,341.61 L590.73,341.66 L589.22,341.71 L587.71,341.75 L586.20,341.80 L584.69,341.85 L583.18,341.90 L581.66,341.95 L580.15,342.00 L578.64,342.05 L577.13,342.10 L575.61,342.15 L574.10,342.20 L572.59,342.25 L571.08,342.31 L569.56,342.36 L568.05,342.42 L566.54,342.48 L565.03,342.54 L563.51,342.60 L562.00,342.66 L560.49,342.73 L558.98,342.79 L557.47,342.86 L555.96,342.93 L554.45,343.01 L552.94,343.08 L551.43,343.16 L549.92,343.24 L548.41,343.33 L546.90,343.41 L545.39,343.50 L543.88,343.60 L542.37,343.69 L540.87,343.79 L539.36,343.89 L537.86,344.00 L536.35,344.11 L534.85,344.22 L533.34,344.34 L531.84,344.46 L530.34,344.59 L528.84,344.72 L527.34,344.85 L525.84,344.99 L524.34,345.13 L522.84,345.28 L521.35,345.43 L519.85,345.59 L518.35,345.75 L516.86,345.92 L515.37,346.09 L513.88,346.27 L512.39,346.45 L510.90,346.64 L509.41,346.84 L507.92,347.04 L506.44,347.25 L504.95,347.46 L503.47,347.68 L501.99,347.91 L500.51,348.16 L499.04,348.41 L497.56,348.68 L496.09,348.97 L494.62,349.27 L493.16,349.59 L491.70,349.93 L490.24,350.29 L488.79,350.67 L487.34,351.07 L485.90,351.50 L484.46,351.95 L483.03,352.44 L481.60,352.95 L480.18,353.49 L478.76,354.06 L477.35,354.66 L475.94,355.30 L474.54,355.97 L473.15,356.68 L471.76,357.43 L470.38,358.19 L469.00,358.96 L467.63,359.74 L466.25,360.50 L464.88,361.24 L463.50,361.95 L462.12,362.62 L460.73,363.23 L459.34,363.78 L457.93,364.24 L456.52,364.62 L455.10,364.91 L453.67,365.08 L452.22,365.13 L450.76,365.06 L449.28,364.84 L447.83,364.46 L446.46,363.91 L445.24,363.18 L444.24,362.25 L443.51,361.11 L443.05,359.83 L442.86,358.44 L442.94,357.00 L443.30,355.54 L443.91,354.09 L444.73,352.67 L445.72,351.28 L446.85,349.94 L448.08,348.65 L449.37,347.45 L450.70,346.33 L452.02,345.31 L453.29,344.40 L454.49,343.63 L455.57,342.99 L456.50,342.50 L440.0,320.0 L408.0,240.0 L408.0,225.8 Z" fill="#ffffcc"/>
<path d="M399.90,225.80 L399.92,227.26 L399.94,228.73 L399.96,230.21 L399.98,231.70 L400.00,233.21 L400.04,234.72 L400.07,236.23 L400.12,237.76 L400.18,239.28 L400.24,240.81 L400.32,242.35 L400.42,243.88 L400.53,245.41 L400.66,246.94 L400.81,248.47 L400.98,250.00 L401.17,251.52 L401.39,253.03 L401.63,254.54 L401.90,256.03 L402.20,257.52 L402.53,258.99 L402.89,260.46 L403.28,261.91 L403.71,263.34 L404.18,264.76 L404.68,266.16 L405.22,267.54 L405.81,268.91 L406.43,270.25 L407.10,271.57 L407.82,272.86 L408.58,274.14 L409.38,275.40 L410.21,276.64 L411.07,277.86 L411.95,279.08 L412.84,280.29 L413.74,281.50 L414.65,282.71 L415.56,283.93 L416.46,285.15 L417.35,286.38 L418.21,287.63 L419.06,288.89 L419.88,290.18 L420.66,291.48 L421.40,292.82 L422.09,294.18 L422.73,295.58 L423.32,297.01 L423.84,298.46 L424.28,299.93 L424.65,301.42 L424.93,302.91 L425.11,304.40 L425.20,305.89 L425.17,307.37 L425.03,308.82 L424.77,310.26 L424.37,311.67 L423.85,313.04 L423.24,314.40 L422.60,315.76 L422.00,317.16 L421.48,318.61 L421.10,320.14 L420.91,321.74 L420.89,323.39 L421.05,325.01 L421.37,326.58 L421.84,328.03 L422.46,329.37 L423.20,330.60 L424.07,331.73 L425.04,332.76 L426.12,333.70 L427.28,334.56 L428.52,335.35 L429.83,336.07 L431.19,336.72 L432.60,337.32 L434.05,337.87 L435.51,338.38 L437.00,338.85 L438.48,339.30 L439.97,339.71 L441.46,340.10 L442.94,340.46 L444.43,340.80 L445.92,341.11 L447.41,341.39 L448.90,341.65 L450.39,341.89 L451.89,342.10 L453.38,342.28 L454.87,342.45 L456.37,342.59 L457.86,342.70 L459.36,342.80 L460.85,342.87 L462.35,342.92 L463.85,342.95 L465.35,342.96 L466.85,342.95 L468.35,342.91 L469.85,342.86 L471.35,342.79 L472.85,342.70 L474.35,342.59 L475.86,342.46 L477.36,342.31 L478.87,342.15 L480.37,341.97 L481.88,341.77 L483.39,341.55 L484.89,341.32 L486.40,341.07 L487.91,340.81 L489.42,340.53 L490.93,340.24 L492.44,339.94 L493.95,339.61 L495.47,339.28 L496.98,338.93 L498.49,338.57 L499.97,338.17 L501.36,337.70 L502.63,337.13 L503.72,336.42 L504.58,335.55 L505.17,334.47 L505.45,333.16 L505.38,331.60 L505.06,329.93 L504.63,328.29 L504.12,326.73 L503.53,325.23 L502.86,323.81 L502.12,322.46 L501.32,321.16 L500.46,319.93 L499.54,318.76 L498.56,317.64 L497.54,316.57 L496.48,315.53 L495.38,314.53 L494.26,313.55 L493.11,312.59 L491.95,311.64 L490.78,310.69 L489.61,309.75 L488.44,308.79 L487.29,307.82 L486.14,306.83 L485.02,305.81 L483.93,304.75 L482.87,303.65 L481.86,302.50 L480.89,301.29 L480.02,300.03 L479.28,298.72 L478.72,297.36 L478.39,295.95 L478.32,294.51 L478.47,293.02 L478.79,291.52 L479.21,289.99 L479.70,288.46 L480.18,286.94 L480.61,285.42 L480.92,283.92 L481.08,282.45 L481.01,281.00 L480.67,279.58 L480.10,278.21 L479.36,276.88 L478.51,275.60 L477.59,274.38 L476.62,273.21 L475.61,272.08 L474.57,271.00 L473.49,269.96 L472.38,268.96 L471.24,267.99 L470.07,267.05 L468.88,266.13 L467.67,265.23 L466.45,264.34 L465.22,263.47 L463.98,262.61 L462.73,261.75 L461.48,260.89 L460.23,260.02 L458.98,259.15 L457.74,258.27 L456.52,257.36 L455.31,256.44 L454.10,255.51 L452.91,254.57 L451.72,253.62 L450.53,252.68 L449.33,251.75 L448.13,250.84 L446.92,249.96 L445.69,249.10 L444.44,248.28 L443.18,247.51 L441.88,246.79 L440.56,246.12 L439.21,245.50 L437.84,244.92 L436.45,244.37 L435.05,243.84 L433.64,243.30 L432.23,242.76 L430.81,242.20 L429.41,241.60 L428.01,240.97 L426.63,240.27 L425.27,239.51 L423.95,238.68 L422.69,237.77 L421.52,236.79 L420.46,235.73 L419.53,234.58 L418.74,233.35 L418.14,232.03 L417.73,230.62 L417.53,229.11 L417.59,227.50 L417.90,225.80 Z" fill="#ffcccc"/>
<path d="M399.90,225.80 L399.91,227.34 L399.92,228.87 L399.93,230.41 L399.95,231.94 L399.98,233.47 L400.02,235.00 L400.06,236.54 L400.11,238.06 L400.18,239.59 L400.26,241.12 L400.35,242.64 L400.46,244.16 L400.58,245.67 L400.73,247.19 L400.89,248.70 L401.08,250.21 L401.28,251.71 L401.51,253.21 L401.77,254.70 L402.05,256.20 L402.35,257.68 L402.69,259.16 L403.05,260.64 L403.45,262.11 L403.88,263.58 L404.34,265.04 L404.84,266.49 L405.37,267.94 L405.94,269.38 L406.54,270.82 L407.15,272.25 L407.79,273.68 L408.44,275.10 L409.09,276.53 L409.75,277.95 L410.40,279.37 L411.05,280.79 L411.68,282.21 L412.30,283.63 L412.89,285.06 L413.46,286.48 L413.99,287.91 L414.48,289.35 L414.93,290.78 L415.33,292.23 L415.68,293.67 L415.96,295.13 L416.19,296.59 L416.34,298.06 L416.42,299.54 L416.42,301.03 L416.34,302.53 L416.18,304.04 L415.96,305.55 L415.69,307.07 L415.37,308.60 L415.02,310.13 L414.65,311.66 L414.26,313.19 L413.87,314.73 L413.48,316.26 L413.12,317.79 L412.78,319.32 L412.47,320.85 L412.22,322.37 L412.02,323.88 L411.89,325.39 L411.83,326.88 L411.87,328.37 L412.00,329.84 L412.24,331.29 L412.60,332.71 L413.08,334.09 L413.70,335.40 L414.47,336.65 L415.39,337.81 L416.47,338.88 L417.73,339.84 L419.17,340.69 L420.80,341.40 L420.80,341.40 L420.63,342.88 L420.42,344.36 L420.18,345.86 L419.93,347.37 L419.67,348.88 L419.40,350.40 L419.13,351.92 L418.88,353.44 L418.65,354.97 L418.45,356.49 L418.28,358.01 L418.15,359.52 L418.07,361.03 L418.05,362.52 L418.10,364.01 L418.21,365.49 L418.39,366.96 L418.63,368.41 L418.92,369.86 L419.28,371.29 L419.69,372.71 L420.15,374.11 L420.67,375.51 L421.23,376.89 L421.84,378.26 L422.49,379.61 L423.19,380.95 L423.93,382.28 L424.70,383.59 L425.51,384.89 L426.35,386.17 L427.23,387.43 L428.13,388.68 L429.06,389.91 L430.03,391.12 L431.02,392.30 L432.04,393.46 L433.08,394.59 L434.16,395.70 L435.26,396.77 L436.39,397.81 L437.54,398.82 L438.71,399.79 L439.91,400.72 L441.14,401.61 L442.38,402.46 L443.65,403.26 L444.94,404.02 L446.25,404.73 L447.58,405.40 L448.93,406.03 L450.30,406.62 L451.68,407.17 L453.08,407.69 L454.50,408.17 L455.92,408.61 L457.36,409.03 L458.81,409.42 L460.28,409.78 L461.75,410.11 L463.23,410.42 L464.71,410.71 L466.20,410.98 L467.70,411.23 L469.20,411.47 L470.71,411.69 L472.22,411.89 L473.73,412.09 L475.23,412.27 L476.74,412.45 L478.25,412.61 L479.76,412.77 L481.27,412.92 L482.78,413.06 L484.28,413.20 L485.79,413.32 L487.30,413.44 L488.81,413.55 L490.32,413.66 L491.83,413.76 L493.34,413.85 L494.85,413.94 L496.36,414.02 L497.86,414.09 L499.37,414.17 L500.88,414.23 L502.39,414.29 L503.90,414.35 L505.41,414.41 L506.92,414.46 L508.43,414.50 L509.94,414.55 L511.45,414.59 L512.96,414.63 L514.47,414.67 L515.98,414.71 L517.49,414.74 L519.00,414.77 L520.51,414.81 L522.02,414.84 L523.53,414.87 L525.04,414.90 L526.55,414.93 L528.06,414.96 L529.57,414.99 L531.08,415.02 L532.59,415.05 L534.10,415.07 L535.61,415.10 L537.12,415.13 L538.63,415.16 L540.14,415.18 L541.65,415.21 L543.16,415.23 L544.67,415.26 L546.18,415.28 L547.69,415.30 L549.20,415.33 L550.71,415.35 L552.22,415.37 L553.73,415.40 L555.24,415.42 L556.75,415.44 L558.27,415.46 L559.78,415.48 L561.29,415.50 L562.80,415.52 L564.31,415.54 L565.82,415.56 L567.33,415.58 L568.84,415.59 L570.35,415.61 L571.86,415.63 L573.37,415.65 L574.89,415.66 L576.40,415.68 L577.91,415.70 L579.42,415.71 L580.93,415.73 L582.44,415.74 L583.95,415.76 L585.46,415.77 L586.97,415.79 L588.49,415.80 L590.00,415.82 L591.51,415.83 L593.02,415.84 L594.53,415.86 L596.04,415.87 L597.55,415.88 L599.06,415.89 L600.57,415.91 L602.08,415.92 L603.60,415.93 L605.11,415.94 L606.62,415.95 L608.13,415.96 L609.64,415.98 L611.15,415.99 L612.66,416.00 L614.17,416.01 L615.68,416.02 L617.19,416.03 L618.71,416.04 L620.22,416.05 L621.73,416.06 L623.24,416.07 L624.75,416.07 L626.26,416.08 L627.77,416.09 L629.28,416.10 L630.79,416.11 L632.30,416.12 L633.81,416.13 L635.33,416.13 L636.84,416.14 L638.35,416.15 L639.86,416.16 L641.37,416.17 L642.88,416.17 L644.39,416.18 L645.90,416.19 L647.41,416.19 L648.92,416.20 L650.43,416.21 L651.94,416.21 L653.46,416.22 L654.97,416.23 L656.48,416.23 L657.99,416.24 L659.50,416.25 L661.01,416.25 L662.52,416.26 L664.03,416.26 L665.54,416.27 L667.05,416.28 L668.56,416.28 L670.07,416.29 L671.59,416.29 L673.10,416.30 L674.61,416.30 L676.12,416.31 L677.63,416.32 L679.14,416.32 L680.65,416.33 L682.16,416.33 L683.67,416.34 L685.18,416.34 L686.69,416.35 L688.20,416.35 L689.72,416.36 L691.23,416.36 L692.74,416.37 L694.25,416.37 L695.76,416.38 L697.27,416.38 L698.78,416.39 L700.29,416.39 L701.80,416.40 L703.31,416.40 L704.82,416.41 L706.34,416.42 L707.85,416.42 L709.36,416.43 L710.87,416.43 L712.38,416.44 L713.89,416.44 L715.40,416.45 L716.91,416.45 L718.42,416.46 L719.93,416.46 L721.44,416.47 L722.96,416.48 L724.47,416.48 L725.98,416.49 L727.49,416.49 L729.00,416.50 L729.0,416.5 L399.3,416.5 L399.3,225.8 Z" fill="#ffcccc"/></g>
<path d="M48.5,47.50 h4.4 M388.5,47.50 h-4.4 M48.5,132.70 h4.4 M388.5,132.70 h-4.4 M48.5,217.90 h4.4 M388.5,217.90 h-4.4 M48.5,245.00 h4.4 M388.5,245.00 h-4.4 M48.5,330.75 h4.4 M388.5,330.75 h-4.4 M48.5,416.50 h4.4 M388.5,416.50 h-4.4 M59.5,221.8 v4.1 M59.5,420.2 v-4.1 M165.8,221.8 v4.1 M165.8,420.2 v-4.1 M272.1,221.8 v4.1 M272.1,420.2 v-4.1 M378.4,221.8 v4.1 M378.4,420.2 v-4.1 M399.5,221.8 v4.1 M399.5,420.2 v-4.1 M505.8,221.8 v4.1 M505.8,420.2 v-4.1 M612.1,221.8 v4.1 M612.1,420.2 v-4.1 M718.4,221.8 v4.1 M718.4,420.2 v-4.1" stroke="#484848" stroke-width="0.9" fill="none"/>
<g><line x1="59.3" x2="388.5" y1="122.0" y2="122.0" stroke="#808080" stroke-opacity="0.75" stroke-width="1.9" stroke-dasharray="2,1.92" stroke-dashoffset="1.2"/>
<line x1="59.3" x2="388.5" y1="168.45" y2="168.45" stroke="#222" stroke-width="0.95"/>
<path d="M107.50,47.50 L108.05,48.93 L108.65,50.33 L109.30,51.70 L109.99,53.04 L110.73,54.35 L111.51,55.63 L112.32,56.89 L113.17,58.13 L114.04,59.35 L114.95,60.55 L115.88,61.73 L116.83,62.90 L117.80,64.06 L118.79,65.21 L119.79,66.35 L120.80,67.48 L121.81,68.61 L122.83,69.74 L123.85,70.87 L124.87,72.00 L125.88,73.13 L126.88,74.27 L127.88,75.41 L128.85,76.57 L129.82,77.74 L130.76,78.92 L131.67,80.12 L132.56,81.33 L133.43,82.56 L134.27,83.81 L135.08,85.08 L135.87,86.36 L136.64,87.65 L137.39,88.96 L138.12,90.28 L138.84,91.61 L139.53,92.95 L140.22,94.30 L140.89,95.66 L141.55,97.03 L142.19,98.40 L142.83,99.77 L143.47,101.16 L144.09,102.54 L144.71,103.93 L145.33,105.31 L145.95,106.70 L146.56,108.09 L147.17,109.48 L147.79,110.86 L148.40,112.25 L149.01,113.63 L149.62,115.02 L150.23,116.40 L150.84,117.79 L151.44,119.17 L152.05,120.56 L152.65,121.94 L153.26,123.33 L153.86,124.71 L154.46,126.10 L155.05,127.49 L155.65,128.87 L156.24,130.26 L156.84,131.64 L157.43,133.03 L158.01,134.42 L158.60,135.81 L159.19,137.20 L159.77,138.59 L160.35,139.98 L160.93,141.37 L161.50,142.76 L162.07,144.16 L162.64,145.55 L163.21,146.95 L163.78,148.34 L164.34,149.74 L164.90,151.14 L165.46,152.54 L166.01,153.95 L166.56,155.35 L167.11,156.75 L167.66,158.16 L168.20,159.57 L168.74,160.98 L169.28,162.39 L169.81,163.81 L170.34,165.22 L170.87,166.64 L171.39,168.06 L171.91,169.48 L172.43,170.92 L172.94,172.37 L173.46,173.84 L173.99,175.34 L174.51,176.88 L175.03,178.45 L175.46,180.02 L175.74,181.54 L175.77,182.96 L175.47,184.25 L174.80,185.36 L173.84,186.31 L172.71,187.10 L171.50,187.74 L170.21,188.26 L168.86,188.66 L167.45,188.94 L166.00,189.13 L164.50,189.23 L162.97,189.25 L161.42,189.20 L159.85,189.10 L158.26,188.95 L156.68,188.76 L155.09,188.55 L153.52,188.33 L151.96,188.08 L150.40,187.83 L148.86,187.55 L147.33,187.26 L145.81,186.96 L144.30,186.64 L142.80,186.30 L141.31,185.95 L139.83,185.58 L138.35,185.20 L136.89,184.80 L135.44,184.38 L134.00,183.95 L132.56,183.50 L131.14,183.03 L129.73,182.55 L128.32,182.05 L126.92,181.53 L125.53,181.00 L124.15,180.45 L122.78,179.88 L121.42,179.29 L120.07,178.69 L118.72,178.07 L117.38,177.43 L116.05,176.78 L114.73,176.10 L113.42,175.41 L112.11,174.70 L110.82,173.97 L109.53,173.22 L108.24,172.46 L106.97,171.68 L105.70,170.87 L104.44,170.05 L103.18,169.21 L101.94,168.36 L100.70,167.48 L99.46,166.58 L98.24,165.67 L97.02,164.73 L95.80,163.78 L94.60,162.81 L93.39,161.81 L92.20,160.80" fill="none" stroke="#32cd32" stroke-width="2" stroke-dasharray="2,1.35"/>
<path d="M59.80,47.50 L59.84,49.01 L59.89,50.51 L59.93,52.02 L59.98,53.52 L60.03,55.03 L60.09,56.53 L60.14,58.04 L60.20,59.54 L60.26,61.05 L60.32,62.55 L60.39,64.06 L60.45,65.56 L60.52,67.07 L60.59,68.57 L60.67,70.07 L60.74,71.58 L60.82,73.08 L60.90,74.59 L60.99,76.09 L61.07,77.59 L61.16,79.10 L61.25,80.60 L61.35,82.10 L61.44,83.60 L61.54,85.11 L61.64,86.61 L61.75,88.11 L61.86,89.61 L61.97,91.11 L62.08,92.62 L62.19,94.12 L62.31,95.62 L62.43,97.12 L62.56,98.62 L62.69,100.12 L62.82,101.62 L62.95,103.12 L63.09,104.62 L63.23,106.11 L63.37,107.61 L63.51,109.11 L63.66,110.61 L63.82,112.11 L63.97,113.60 L64.13,115.10 L64.29,116.59 L64.46,118.09 L64.62,119.59 L64.80,121.08 L64.97,122.58 L65.15,124.07 L65.33,125.56 L65.52,127.06 L65.70,128.55 L65.90,130.04 L66.09,131.53 L66.29,133.03 L66.49,134.52 L66.70,136.01 L66.91,137.50 L67.12,138.99 L67.34,140.48 L67.56,141.96 L67.79,143.45 L68.02,144.94 L68.26,146.42 L68.51,147.91 L68.76,149.39 L69.03,150.87 L69.31,152.35 L69.60,153.83 L69.90,155.30 L70.21,156.77 L70.55,158.24 L70.89,159.70 L71.26,161.17 L71.64,162.62 L72.04,164.08 L72.46,165.53 L72.90,166.98 L73.36,168.42 L73.85,169.85 L74.36,171.28 L74.89,172.71 L75.45,174.12 L76.03,175.53 L76.63,176.92 L77.26,178.30 L77.92,179.67 L78.60,181.03 L79.31,182.36 L80.05,183.69 L80.81,184.99 L81.60,186.27 L82.42,187.53 L83.27,188.78 L84.15,189.99 L85.05,191.19 L85.99,192.36 L86.96,193.50 L87.96,194.61 L88.98,195.70 L90.05,196.75 L91.14,197.77 L92.26,198.77 L93.42,199.72 L94.60,200.65 L95.81,201.54 L97.05,202.40 L98.31,203.22 L99.59,204.01 L100.90,204.77 L102.23,205.49 L103.57,206.18 L104.93,206.83 L106.31,207.44 L107.70,208.02 L109.11,208.56 L110.52,209.06 L111.95,209.53 L113.39,209.96 L114.83,210.37 L116.29,210.74 L117.75,211.08 L119.22,211.40 L120.69,211.69 L122.18,211.96 L123.66,212.20 L125.15,212.43 L126.65,212.64 L128.15,212.84 L129.65,213.02 L131.15,213.18 L132.66,213.34 L134.16,213.49 L135.67,213.63 L137.17,213.76 L138.68,213.90 L140.18,214.02 L141.69,214.15 L143.19,214.26 L144.69,214.38 L146.20,214.49 L147.70,214.60 L149.20,214.70 L150.71,214.81 L152.21,214.90 L153.71,215.00 L155.21,215.09 L156.72,215.18 L158.22,215.27 L159.72,215.35 L161.23,215.43 L162.73,215.51 L164.23,215.58 L165.74,215.65 L167.24,215.72 L168.74,215.79 L170.25,215.85 L171.75,215.92 L173.25,215.98 L174.76,216.04 L176.26,216.09 L177.76,216.14 L179.27,216.20 L180.77,216.25 L182.27,216.29 L183.78,216.34 L185.28,216.38 L186.78,216.43 L188.29,216.47 L189.79,216.51 L191.29,216.55 L192.80,216.58 L194.30,216.62 L195.81,216.65 L197.31,216.69 L198.81,216.72 L200.32,216.75 L201.82,216.78 L203.32,216.81 L204.83,216.84 L206.33,216.87 L207.84,216.89 L209.34,216.92 L210.85,216.95 L212.35,216.97 L213.85,217.00 L215.36,217.02 L216.86,217.04 L218.37,217.07 L219.87,217.09 L221.38,217.11 L222.88,217.13 L224.39,217.16 L225.89,217.18 L227.40,217.20 L228.90,217.22 L230.41,217.24 L231.91,217.25 L233.42,217.27 L234.92,217.29 L236.43,217.31 L237.93,217.32 L239.44,217.34 L240.94,217.36 L242.45,217.37 L243.95,217.39 L245.46,217.40 L246.97,217.42 L248.47,217.43 L249.98,217.44 L251.48,217.46 L252.99,217.47 L254.49,217.48 L256.00,217.50 L257.50,217.51 L259.01,217.52 L260.52,217.53 L262.02,217.54 L263.53,217.55 L265.03,217.56 L266.54,217.57 L268.04,217.58 L269.55,217.59 L271.06,217.60 L272.56,217.61 L274.07,217.61 L275.57,217.62 L277.08,217.63 L278.59,217.64 L280.09,217.64 L281.60,217.65 L283.10,217.66 L284.61,217.66 L286.12,217.67 L287.62,217.68 L289.13,217.68 L290.63,217.69 L292.14,217.69 L293.65,217.70 L295.15,217.70 L296.66,217.71 L298.16,217.71 L299.67,217.72 L301.18,217.72 L302.68,217.72 L304.19,217.73 L305.70,217.73 L307.20,217.74 L308.71,217.74 L310.21,217.74 L311.72,217.75 L313.23,217.75 L314.73,217.75 L316.24,217.75 L317.74,217.76 L319.25,217.76 L320.76,217.76 L322.26,217.76 L323.77,217.77 L325.27,217.77 L326.78,217.77 L328.29,217.77 L329.79,217.78 L331.30,217.78 L332.80,217.78 L334.31,217.78 L335.82,217.78 L337.32,217.79 L338.83,217.79 L340.33,217.79 L341.84,217.79 L343.34,217.80 L344.85,217.80 L346.36,217.80 L347.86,217.80 L349.37,217.80 L350.87,217.81 L352.38,217.81 L353.88,217.81 L355.39,217.81 L356.89,217.82 L358.40,217.82 L359.91,217.82 L361.41,217.82 L362.92,217.83 L364.42,217.83 L365.93,217.83 L367.43,217.84 L368.94,217.84 L370.44,217.84 L371.95,217.85 L373.45,217.85 L374.96,217.86 L376.46,217.86 L377.97,217.86 L379.47,217.87 L380.98,217.87 L382.48,217.88 L383.99,217.88 L385.49,217.89 L387.00,217.89 L388.50,217.90" fill="none" stroke="#ff0000" stroke-width="2" stroke-linejoin="round"/>
<path d="M59.80,47.50 L59.96,48.93 L60.11,50.37 L60.25,51.81 L60.38,53.27 L60.50,54.74 L60.62,56.21 L60.73,57.69 L60.83,59.17 L60.93,60.67 L61.02,62.17 L61.11,63.68 L61.19,65.19 L61.27,66.71 L61.35,68.23 L61.42,69.76 L61.49,71.29 L61.57,72.83 L61.64,74.37 L61.71,75.92 L61.78,77.46 L61.86,79.01 L61.93,80.57 L62.01,82.12 L62.09,83.68 L62.18,85.23 L62.27,86.79 L62.36,88.35 L62.46,89.91 L62.57,91.47 L62.68,93.03 L62.80,94.58 L62.92,96.14 L63.06,97.70 L63.20,99.25 L63.35,100.80 L63.52,102.35 L63.69,103.89 L63.87,105.43 L64.07,106.97 L64.28,108.51 L64.50,110.04 L64.73,111.56 L64.98,113.08 L65.24,114.60 L65.52,116.11 L65.82,117.61 L66.13,119.11 L66.45,120.60 L66.80,122.08 L67.16,123.55 L67.54,125.02 L67.94,126.48 L68.36,127.93 L68.81,129.37 L69.27,130.80 L69.75,132.23 L70.26,133.64 L70.78,135.04 L71.34,136.43 L71.91,137.81 L72.51,139.18 L73.13,140.54 L73.79,141.88 L74.46,143.22 L75.16,144.54 L75.90,145.84 L76.65,147.14 L77.44,148.41 L78.27,149.66 L79.13,150.88 L80.04,152.06 L80.99,153.20 L81.99,154.30 L83.05,155.35 L84.16,156.34 L85.33,157.27 L86.56,158.13 L87.86,158.92 L89.23,159.63 L90.68,160.26 L92.20,160.80 L92.20,160.80 L93.42,159.91 L94.45,158.90 L95.32,157.79 L96.03,156.59 L96.61,155.30 L97.07,153.94 L97.41,152.53 L97.67,151.07 L97.85,149.58 L97.96,148.07 L98.03,146.55 L98.05,145.03 L98.04,143.50 L97.98,141.97 L97.89,140.43 L97.77,138.89 L97.61,137.35 L97.43,135.80 L97.23,134.26 L97.00,132.71 L96.75,131.16 L96.48,129.61 L96.20,128.07 L95.91,126.53 L95.61,124.99 L95.30,123.45 L94.98,121.91 L94.67,120.38 L94.35,118.86 L94.03,117.34 L93.71,115.82 L93.38,114.31 L93.06,112.80 L92.73,111.29 L92.40,109.79 L92.07,108.29 L91.74,106.79 L91.41,105.30 L91.07,103.80 L90.73,102.32 L90.39,100.83 L90.05,99.34 L89.71,97.86 L89.36,96.38 L89.01,94.90 L88.66,93.42 L88.31,91.95 L87.96,90.47 L87.61,89.00 L87.25,87.53 L86.89,86.05 L86.53,84.58 L86.17,83.11 L85.80,81.64 L85.44,80.17 L85.07,78.70 L84.70,77.23 L84.33,75.75 L83.95,74.28 L83.58,72.81 L83.20,71.34 L82.82,69.86 L82.44,68.38 L82.06,66.91 L81.67,65.43 L81.28,63.95 L80.89,62.46 L80.50,60.98 L80.11,59.49 L79.72,58.00 L79.32,56.51 L78.92,55.02 L78.52,53.52 L78.12,52.02 L77.71,50.52 L77.31,49.01 L76.90,47.50" fill="none" stroke="#0000ff" stroke-width="2" stroke-dasharray="3.4,2.9"/></g>
<g><line x1="399.3" x2="729.0" y1="104.8" y2="104.8" stroke="#808080" stroke-opacity="0.75" stroke-width="1.9" stroke-dasharray="2,1.92" stroke-dashoffset="1.2"/>
<line x1="399.3" x2="729.0" y1="166.20" y2="166.20" stroke="#222" stroke-width="0.95"/>
<path d="M445.80,38.00 L446.30,39.70 L446.95,41.19 L447.73,42.49 L448.64,43.63 L449.66,44.62 L450.77,45.49 L451.97,46.26 L453.24,46.95 L454.56,47.58 L455.93,48.18 L457.33,48.76 L458.74,49.36 L460.16,49.98 L461.57,50.66 L462.96,51.39 L464.32,52.18 L465.66,53.03 L466.96,53.92 L468.22,54.86 L469.43,55.84 L470.59,56.87 L471.70,57.93 L472.74,59.03 L473.72,60.16 L474.65,61.33 L475.52,62.52 L476.34,63.75 L477.11,65.00 L477.83,66.28 L478.51,67.58 L479.15,68.91 L479.76,70.26 L480.32,71.63 L480.86,73.01 L481.36,74.42 L481.84,75.83 L482.29,77.27 L482.72,78.71 L483.14,80.17 L483.54,81.63 L483.92,83.10 L484.29,84.58 L484.66,86.06 L485.02,87.55 L485.38,89.03 L485.74,90.52 L486.11,92.00 L486.48,93.48 L486.85,94.96 L487.24,96.44 L487.62,97.91 L488.02,99.38 L488.42,100.84 L488.82,102.30 L489.23,103.76 L489.65,105.22 L490.06,106.68 L490.49,108.13 L490.91,109.58 L491.34,111.03 L491.77,112.47 L492.21,113.92 L492.65,115.36 L493.09,116.80 L493.54,118.24 L493.98,119.68 L494.43,121.11 L494.88,122.55 L495.33,123.98 L495.78,125.42 L496.23,126.85 L496.69,128.28 L497.14,129.71 L497.60,131.14 L498.05,132.58 L498.50,134.01 L498.95,135.44 L499.41,136.87 L499.86,138.30 L500.31,139.73 L500.75,141.16 L501.20,142.59 L501.64,144.02 L502.09,145.45 L502.52,146.89 L502.96,148.32 L503.39,149.76 L503.82,151.20 L504.25,152.63 L504.67,154.07 L505.09,155.51 L505.50,156.96 L505.91,158.40 L506.31,159.85 L506.71,161.30 L507.11,162.75 L507.49,164.20 L507.88,165.66 L508.28,167.12 L508.68,168.60 L509.10,170.09 L509.54,171.59 L510.00,173.12 L510.48,174.66 L510.95,176.21 L511.35,177.75 L511.62,179.27 L511.69,180.75 L511.52,182.17 L511.10,183.49 L510.44,184.66 L509.56,185.61 L508.48,186.34 L507.23,186.88 L505.84,187.26 L504.34,187.49 L502.76,187.60 L501.12,187.61 L499.46,187.56 L497.80,187.45 L496.17,187.33 L494.59,187.20 L493.04,187.05 L491.52,186.89 L490.03,186.71 L488.55,186.52 L487.10,186.31 L485.65,186.08 L484.20,185.82 L482.76,185.55 L481.31,185.25 L479.86,184.93 L478.42,184.59 L476.97,184.22 L475.53,183.83 L474.09,183.42 L472.66,182.99 L471.22,182.53 L469.80,182.06 L468.37,181.56 L466.96,181.03 L465.55,180.49 L464.14,179.92 L462.75,179.33 L461.36,178.72 L459.98,178.09 L458.61,177.43 L457.25,176.75 L455.91,176.05 L454.57,175.33 L453.25,174.59 L451.94,173.82 L450.64,173.03 L449.36,172.22 L448.09,171.39 L446.84,170.54 L445.60,169.66 L444.38,168.76 L443.18,167.85 L442.00,166.90 L440.83,165.94 L439.69,164.96 L438.56,163.95 L437.46,162.92 L436.37,161.87 L435.31,160.80 L434.27,159.71 L433.26,158.59 L432.27,157.46 L431.30,156.30" fill="none" stroke="#32cd32" stroke-width="2" stroke-dasharray="2,1.35"/>
<path d="M399.90,38.00 L399.85,39.52 L399.83,41.05 L399.82,42.57 L399.82,44.08 L399.84,45.60 L399.87,47.11 L399.92,48.62 L399.99,50.13 L400.06,51.64 L400.15,53.15 L400.25,54.65 L400.36,56.15 L400.48,57.66 L400.61,59.16 L400.75,60.65 L400.90,62.15 L401.05,63.65 L401.22,65.14 L401.39,66.64 L401.56,68.13 L401.74,69.63 L401.93,71.12 L402.12,72.61 L402.32,74.10 L402.51,75.59 L402.72,77.08 L402.92,78.57 L403.12,80.07 L403.33,81.56 L403.53,83.05 L403.73,84.54 L403.94,86.03 L404.14,87.52 L404.33,89.01 L404.53,90.51 L404.72,92.00 L404.91,93.49 L405.09,94.99 L405.27,96.49 L405.44,97.98 L405.60,99.48 L405.76,100.98 L405.91,102.48 L406.05,103.98 L406.18,105.49 L406.30,106.99 L406.42,108.50 L406.53,110.01 L406.63,111.51 L406.73,113.02 L406.83,114.53 L406.94,116.04 L407.04,117.54 L407.15,119.05 L407.26,120.55 L407.38,122.06 L407.51,123.56 L407.65,125.05 L407.80,126.55 L407.95,128.04 L408.12,129.54 L408.29,131.03 L408.47,132.52 L408.66,134.01 L408.85,135.49 L409.06,136.98 L409.27,138.46 L409.49,139.94 L409.72,141.43 L409.95,142.91 L410.20,144.39 L410.45,145.87 L410.70,147.35 L410.97,148.82 L411.24,150.30 L411.52,151.78 L411.81,153.26 L412.10,154.73 L412.41,156.21 L412.71,157.69 L413.03,159.16 L413.35,160.64 L413.68,162.12 L414.01,163.59 L414.36,165.07 L414.70,166.55 L415.06,168.03 L415.43,169.51 L415.81,170.98 L416.20,172.45 L416.62,173.92 L417.05,175.38 L417.51,176.83 L418.00,178.27 L418.51,179.70 L419.06,181.11 L419.65,182.50 L420.29,183.88 L420.97,185.22 L421.70,186.54 L422.47,187.83 L423.29,189.09 L424.15,190.32 L425.05,191.53 L426.00,192.70 L426.97,193.84 L427.99,194.96 L429.04,196.04 L430.12,197.09 L431.24,198.11 L432.38,199.10 L433.55,200.05 L434.75,200.97 L435.97,201.86 L437.22,202.71 L438.49,203.52 L439.78,204.30 L441.09,205.05 L442.41,205.75 L443.76,206.42 L445.11,207.06 L446.48,207.65 L447.86,208.21 L449.25,208.74 L450.66,209.24 L452.08,209.70 L453.50,210.13 L454.94,210.54 L456.39,210.91 L457.84,211.26 L459.31,211.59 L460.78,211.89 L462.26,212.17 L463.75,212.43 L465.24,212.67 L466.74,212.89 L468.24,213.09 L469.75,213.28 L471.26,213.45 L472.78,213.61 L474.29,213.76 L475.81,213.89 L477.34,214.02 L478.86,214.13 L480.38,214.24 L481.91,214.35 L483.43,214.45 L484.95,214.55 L486.48,214.64 L488.00,214.73 L489.52,214.82 L491.03,214.91 L492.55,215.00 L494.07,215.08 L495.58,215.16 L497.09,215.24 L498.60,215.32 L500.12,215.39 L501.63,215.46 L503.14,215.53 L504.64,215.60 L506.15,215.67 L507.66,215.73 L509.17,215.80 L510.67,215.86 L512.18,215.92 L513.68,215.98 L515.18,216.03 L516.69,216.09 L518.19,216.14 L519.69,216.19 L521.19,216.24 L522.69,216.29 L524.19,216.34 L525.69,216.39 L527.20,216.43 L528.70,216.47 L530.19,216.52 L531.69,216.56 L533.19,216.60 L534.69,216.63 L536.19,216.67 L537.69,216.71 L539.19,216.74 L540.69,216.78 L542.19,216.81 L543.69,216.84 L545.19,216.88 L546.69,216.91 L548.19,216.94 L549.69,216.97 L551.19,217.00 L552.69,217.02 L554.19,217.05 L555.70,217.08 L557.20,217.10 L558.70,217.13 L560.20,217.15 L561.71,217.18 L563.21,217.20 L564.71,217.22 L566.22,217.24 L567.72,217.26 L569.22,217.28 L570.73,217.30 L572.23,217.32 L573.74,217.34 L575.24,217.36 L576.75,217.38 L578.25,217.40 L579.76,217.41 L581.26,217.43 L582.77,217.44 L584.27,217.46 L585.78,217.47 L587.29,217.49 L588.79,217.50 L590.30,217.51 L591.81,217.52 L593.31,217.54 L594.82,217.55 L596.33,217.56 L597.84,217.57 L599.34,217.58 L600.85,217.59 L602.36,217.60 L603.87,217.61 L605.38,217.62 L606.88,217.62 L608.39,217.63 L609.90,217.64 L611.41,217.65 L612.92,217.65 L614.43,217.66 L615.94,217.67 L617.45,217.67 L618.95,217.68 L620.46,217.68 L621.97,217.69 L623.48,217.69 L624.99,217.70 L626.50,217.70 L628.01,217.70 L629.52,217.71 L631.03,217.71 L632.54,217.71 L634.05,217.72 L635.56,217.72 L637.07,217.72 L638.58,217.72 L640.09,217.73 L641.60,217.73 L643.10,217.73 L644.61,217.73 L646.12,217.73 L647.63,217.74 L649.14,217.74 L650.65,217.74 L652.16,217.74 L653.67,217.74 L655.18,217.74 L656.69,217.74 L658.20,217.74 L659.71,217.74 L661.22,217.74 L662.73,217.75 L664.24,217.75 L665.75,217.75 L667.25,217.75 L668.76,217.75 L670.27,217.75 L671.78,217.75 L673.29,217.75 L674.80,217.75 L676.31,217.75 L677.81,217.75 L679.32,217.75 L680.83,217.76 L682.34,217.76 L683.85,217.76 L685.35,217.76 L686.86,217.76 L688.37,217.76 L689.88,217.77 L691.38,217.77 L692.89,217.77 L694.40,217.77 L695.90,217.78 L697.41,217.78 L698.92,217.78 L700.42,217.78 L701.93,217.79 L703.44,217.79 L704.94,217.80 L706.45,217.80 L707.95,217.80 L709.46,217.81 L710.96,217.81 L712.47,217.82 L713.97,217.83 L715.47,217.83 L716.98,217.84 L718.48,217.84 L719.98,217.85 L721.49,217.86 L722.99,217.87 L724.49,217.87 L726.00,217.88 L727.50,217.89 L729.00,217.90" fill="none" stroke="#ff0000" stroke-width="2" stroke-linejoin="round"/>
<path d="M399.90,38.00 L400.14,39.47 L400.38,40.95 L400.60,42.43 L400.81,43.92 L401.01,45.41 L401.21,46.90 L401.40,48.40 L401.58,49.90 L401.75,51.40 L401.91,52.91 L402.07,54.42 L402.23,55.93 L402.37,57.45 L402.52,58.96 L402.66,60.48 L402.79,62.01 L402.92,63.53 L403.05,65.06 L403.18,66.59 L403.30,68.11 L403.42,69.65 L403.55,71.18 L403.67,72.71 L403.79,74.24 L403.91,75.78 L404.03,77.31 L404.16,78.85 L404.28,80.38 L404.41,81.92 L404.55,83.45 L404.68,84.99 L404.82,86.52 L404.96,88.06 L405.11,89.59 L405.26,91.12 L405.42,92.65 L405.59,94.18 L405.76,95.71 L405.94,97.24 L406.13,98.76 L406.32,100.28 L406.53,101.80 L406.74,103.32 L406.96,104.84 L407.19,106.35 L407.44,107.86 L407.69,109.37 L407.96,110.87 L408.24,112.37 L408.53,113.87 L408.83,115.36 L409.15,116.85 L409.48,118.34 L409.82,119.82 L410.18,121.29 L410.56,122.77 L410.95,124.23 L411.36,125.70 L411.78,127.15 L412.23,128.61 L412.69,130.06 L413.17,131.50 L413.66,132.93 L414.18,134.36 L414.72,135.78 L415.28,137.19 L415.87,138.59 L416.49,139.96 L417.15,141.32 L417.84,142.65 L418.57,143.95 L419.34,145.22 L420.15,146.46 L421.01,147.66 L421.92,148.82 L422.88,149.94 L423.90,151.01 L424.97,152.03 L426.10,153.00 L427.30,153.92 L428.57,154.78 L429.90,155.57 L431.30,156.30 L431.30,156.30 L432.54,155.36 L433.59,154.31 L434.48,153.17 L435.22,151.95 L435.82,150.65 L436.30,149.30 L436.68,147.89 L436.96,146.44 L437.16,144.97 L437.31,143.47 L437.40,141.97 L437.46,140.46 L437.48,138.95 L437.47,137.44 L437.43,135.92 L437.36,134.41 L437.26,132.89 L437.14,131.37 L437.00,129.85 L436.83,128.32 L436.65,126.80 L436.45,125.27 L436.24,123.75 L436.02,122.22 L435.79,120.69 L435.55,119.16 L435.31,117.63 L435.06,116.10 L434.82,114.57 L434.58,113.04 L434.34,111.50 L434.10,109.97 L433.88,108.44 L433.67,106.91 L433.47,105.38 L433.28,103.85 L433.11,102.31 L432.95,100.78 L432.81,99.25 L432.67,97.73 L432.54,96.20 L432.42,94.67 L432.30,93.15 L432.18,91.63 L432.06,90.11 L431.94,88.59 L431.81,87.08 L431.69,85.56 L431.55,84.05 L431.41,82.55 L431.25,81.04 L431.08,79.54 L430.90,78.05 L430.70,76.55 L430.49,75.07 L430.25,73.58 L430.00,72.10 L429.71,70.63 L429.41,69.16 L429.08,67.69 L428.72,66.23 L428.33,64.77 L427.90,63.32 L427.44,61.88 L426.95,60.44 L426.42,59.01 L425.85,57.59 L425.25,56.17 L424.62,54.75 L423.96,53.34 L423.30,51.94 L422.62,50.53 L421.93,49.14 L421.25,47.74 L420.58,46.35 L419.92,44.95 L419.27,43.56 L418.65,42.17 L418.06,40.78 L417.51,39.39 L417.00,38.00" fill="none" stroke="#0000ff" stroke-width="2" stroke-dasharray="3.4,2.9"/></g>
<g><line x1="59.3" x2="388.5" y1="298.4" y2="298.4" stroke="#808080" stroke-opacity="0.75" stroke-width="1.9" stroke-dasharray="2,1.92" stroke-dashoffset="1.2"/>
<line x1="59.3" x2="388.5" y1="388.35" y2="388.35" stroke="#222" stroke-width="0.95"/>
<path d="M106.90,233.70 L107.98,234.82 L109.11,235.85 L110.29,236.79 L111.51,237.65 L112.77,238.44 L114.07,239.16 L115.41,239.83 L116.77,240.44 L118.16,241.00 L119.57,241.52 L121.01,242.01 L122.45,242.48 L123.91,242.92 L125.38,243.35 L126.85,243.77 L128.32,244.19 L129.78,244.61 L131.25,245.05 L132.70,245.49 L134.15,245.95 L135.60,246.42 L137.04,246.89 L138.48,247.38 L139.91,247.87 L141.33,248.38 L142.75,248.89 L144.17,249.41 L145.58,249.94 L146.99,250.48 L148.40,251.03 L149.80,251.59 L151.19,252.15 L152.59,252.72 L153.98,253.30 L155.37,253.88 L156.75,254.48 L158.13,255.08 L159.51,255.68 L160.88,256.30 L162.26,256.91 L163.63,257.54 L165.00,258.17 L166.36,258.81 L167.73,259.45 L169.09,260.10 L170.45,260.75 L171.81,261.41 L173.16,262.08 L174.51,262.75 L175.86,263.44 L177.20,264.14 L178.53,264.85 L179.85,265.58 L181.16,266.32 L182.46,267.09 L183.75,267.87 L185.02,268.68 L186.28,269.52 L187.52,270.37 L188.75,271.26 L189.95,272.17 L191.14,273.12 L192.31,274.10 L193.45,275.11 L194.57,276.16 L195.66,277.25 L196.73,278.38 L197.78,279.54 L198.79,280.75 L199.72,282.01 L200.52,283.30 L201.11,284.63 L201.44,286.00 L201.45,287.41 L201.16,288.82 L200.62,290.21 L199.87,291.53 L198.95,292.76 L197.92,293.88 L196.78,294.88 L195.56,295.79 L194.27,296.63 L192.92,297.40 L191.54,298.13 L190.14,298.82 L188.74,299.50 L187.34,300.17 L185.95,300.83 L184.57,301.49 L183.20,302.15 L181.82,302.80 L180.46,303.45 L179.10,304.10 L177.75,304.75 L176.40,305.40 L175.05,306.06 L173.71,306.71 L172.38,307.38 L171.05,308.05 L169.72,308.73 L168.40,309.42 L167.08,310.12 L165.76,310.83 L164.45,311.56 L163.14,312.29 L161.83,313.05 L160.53,313.81 L159.23,314.59 L157.93,315.38 L156.64,316.17 L155.35,316.98 L154.06,317.79 L152.77,318.61 L151.49,319.44 L150.22,320.26 L148.94,321.09 L147.67,321.93 L146.41,322.76 L145.15,323.59 L143.89,324.42 L142.63,325.24 L141.39,326.07 L140.15,326.90 L138.94,327.75 L137.76,328.65 L136.64,329.60 L135.58,330.64 L134.59,331.77 L133.69,333.00 L132.87,334.33 L132.15,335.73 L131.52,337.20 L130.99,338.72 L130.57,340.27 L130.25,341.84 L130.04,343.41 L129.95,344.98 L129.97,346.52 L130.12,348.01 L130.38,349.46 L130.78,350.83 L131.30,352.13 L131.93,353.37 L132.67,354.55 L133.50,355.69 L134.42,356.79 L135.41,357.86 L136.47,358.91 L137.58,359.96 L138.74,361.00 L139.94,362.06 L141.16,363.13 L142.40,364.22 L143.64,365.36 L144.88,366.54 L146.09,367.76 L147.21,369.03 L148.19,370.31 L148.97,371.61 L149.49,372.90 L149.70,374.17 L149.54,375.40 L149.03,376.48 L148.17,377.32 L147.00,377.86 L145.60,378.15 L144.05,378.26 L142.44,378.24 L140.84,378.15 L139.26,377.99 L137.72,377.77 L136.20,377.49 L134.70,377.16 L133.23,376.77 L131.78,376.32 L130.35,375.83 L128.95,375.29 L127.56,374.71 L126.20,374.08 L124.86,373.40 L123.53,372.69 L122.23,371.95 L120.94,371.17 L119.67,370.35 L118.42,369.51 L117.18,368.63 L115.96,367.74 L114.75,366.81 L113.56,365.87 L112.38,364.91 L111.21,363.93 L110.06,362.93 L108.91,361.92 L107.78,360.90 L106.67,359.86 L105.56,358.82 L104.48,357.75 L103.41,356.67 L102.36,355.58 L101.33,354.47 L100.33,353.35 L99.34,352.20 L98.38,351.05 L97.45,349.87 L96.54,348.68 L95.67,347.46 L94.82,346.23 L94.00,344.98 L93.22,343.71 L92.46,342.43 L91.75,341.12 L91.07,339.78 L90.43,338.43 L89.82,337.06 L89.26,335.66 L88.74,334.25 L88.26,332.80 L87.82,331.34 L87.44,329.85 L87.09,328.34 L86.80,326.80" fill="none" stroke="#32cd32" stroke-width="2" stroke-dasharray="2,1.35"/>
<path d="M59.80,233.70 L59.75,235.22 L59.71,236.75 L59.69,238.27 L59.69,239.79 L59.71,241.30 L59.74,242.82 L59.79,244.33 L59.85,245.84 L59.93,247.35 L60.02,248.85 L60.13,250.36 L60.25,251.86 L60.38,253.36 L60.53,254.86 L60.69,256.36 L60.86,257.85 L61.05,259.35 L61.24,260.84 L61.45,262.33 L61.67,263.82 L61.90,265.31 L62.14,266.79 L62.38,268.28 L62.64,269.76 L62.91,271.24 L63.18,272.72 L63.47,274.20 L63.76,275.68 L64.06,277.16 L64.36,278.63 L64.67,280.11 L64.99,281.58 L65.31,283.05 L65.64,284.53 L65.98,286.00 L66.32,287.46 L66.66,288.93 L67.00,290.40 L67.35,291.87 L67.69,293.33 L68.04,294.80 L68.37,296.27 L68.69,297.74 L69.01,299.22 L69.31,300.69 L69.60,302.17 L69.89,303.65 L70.16,305.14 L70.43,306.62 L70.68,308.11 L70.93,309.59 L71.17,311.08 L71.40,312.57 L71.62,314.06 L71.84,315.56 L72.04,317.05 L72.24,318.55 L72.43,320.04 L72.61,321.54 L72.79,323.03 L72.95,324.53 L73.12,326.03 L73.28,327.52 L73.43,329.02 L73.58,330.52 L73.73,332.02 L73.88,333.52 L74.03,335.01 L74.17,336.51 L74.32,338.01 L74.47,339.51 L74.63,341.00 L74.79,342.50 L74.95,343.99 L75.12,345.48 L75.29,346.98 L75.47,348.47 L75.67,349.96 L75.87,351.45 L76.08,352.94 L76.30,354.42 L76.53,355.91 L76.78,357.39 L77.03,358.87 L77.31,360.35 L77.60,361.83 L77.90,363.31 L78.22,364.78 L78.56,366.25 L78.92,367.72 L79.30,369.19 L79.70,370.66 L80.12,372.12 L80.56,373.58 L81.03,375.04 L81.52,376.49 L82.04,377.94 L82.58,379.38 L83.15,380.82 L83.74,382.24 L84.37,383.64 L85.02,385.03 L85.71,386.40 L86.43,387.75 L87.18,389.07 L87.97,390.37 L88.79,391.63 L89.64,392.86 L90.54,394.06 L91.47,395.22 L92.44,396.34 L93.45,397.41 L94.50,398.44 L95.60,399.42 L96.73,400.35 L97.91,401.23 L99.12,402.07 L100.37,402.86 L101.65,403.60 L102.96,404.31 L104.30,404.97 L105.67,405.60 L107.06,406.18 L108.47,406.73 L109.91,407.25 L111.36,407.73 L112.82,408.18 L114.30,408.60 L115.79,408.99 L117.29,409.35 L118.79,409.68 L120.30,409.99 L121.81,410.28 L123.32,410.55 L124.83,410.80 L126.34,411.02 L127.84,411.23 L129.35,411.43 L130.85,411.60 L132.35,411.77 L133.85,411.92 L135.35,412.06 L136.85,412.19 L138.35,412.31 L139.84,412.43 L141.34,412.54 L142.84,412.64 L144.34,412.74 L145.84,412.83 L147.34,412.93 L148.84,413.02 L150.34,413.11 L151.84,413.20 L153.34,413.28 L154.84,413.37 L156.34,413.45 L157.85,413.53 L159.35,413.60 L160.85,413.68 L162.35,413.75 L163.86,413.83 L165.36,413.90 L166.87,413.96 L168.37,414.03 L169.88,414.09 L171.38,414.16 L172.89,414.22 L174.39,414.28 L175.90,414.34 L177.41,414.39 L178.91,414.45 L180.42,414.50 L181.93,414.55 L183.43,414.60 L184.94,414.65 L186.45,414.70 L187.96,414.75 L189.46,414.79 L190.97,414.84 L192.48,414.88 L193.99,414.92 L195.50,414.96 L197.00,415.00 L198.51,415.04 L200.02,415.08 L201.53,415.12 L203.04,415.15 L204.55,415.19 L206.05,415.22 L207.56,415.26 L209.07,415.29 L210.58,415.32 L212.09,415.35 L213.60,415.38 L215.10,415.41 L216.61,415.44 L218.12,415.47 L219.63,415.50 L221.14,415.53 L222.65,415.55 L224.15,415.58 L225.66,415.60 L227.17,415.63 L228.68,415.65 L230.19,415.68 L231.69,415.70 L233.20,415.72 L234.71,415.74 L236.22,415.76 L237.73,415.78 L239.23,415.80 L240.74,415.82 L242.25,415.84 L243.76,415.86 L245.27,415.88 L246.77,415.89 L248.28,415.91 L249.79,415.93 L251.30,415.94 L252.80,415.96 L254.31,415.97 L255.82,415.99 L257.33,416.00 L258.84,416.01 L260.34,416.03 L261.85,416.04 L263.36,416.05 L264.87,416.06 L266.37,416.07 L267.88,416.08 L269.39,416.09 L270.90,416.10 L272.40,416.11 L273.91,416.12 L275.42,416.13 L276.93,416.14 L278.44,416.15 L279.94,416.16 L281.45,416.16 L282.96,416.17 L284.47,416.18 L285.97,416.19 L287.48,416.19 L288.99,416.20 L290.50,416.21 L292.00,416.21 L293.51,416.22 L295.02,416.22 L296.53,416.23 L298.03,416.23 L299.54,416.24 L301.05,416.24 L302.56,416.25 L304.06,416.25 L305.57,416.25 L307.08,416.26 L308.59,416.26 L310.09,416.27 L311.60,416.27 L313.11,416.27 L314.62,416.28 L316.12,416.28 L317.63,416.28 L319.14,416.28 L320.65,416.29 L322.15,416.29 L323.66,416.29 L325.17,416.30 L326.68,416.30 L328.18,416.30 L329.69,416.30 L331.20,416.31 L332.71,416.31 L334.21,416.31 L335.72,416.32 L337.23,416.32 L338.74,416.32 L340.25,416.32 L341.75,416.33 L343.26,416.33 L344.77,416.33 L346.28,416.34 L347.78,416.34 L349.29,416.34 L350.80,416.35 L352.31,416.35 L353.82,416.35 L355.32,416.36 L356.83,416.36 L358.34,416.37 L359.85,416.37 L361.35,416.38 L362.86,416.38 L364.37,416.39 L365.88,416.39 L367.39,416.40 L368.89,416.40 L370.40,416.41 L371.91,416.41 L373.42,416.42 L374.93,416.43 L376.43,416.43 L377.94,416.44 L379.45,416.45 L380.96,416.46 L382.47,416.46 L383.98,416.47 L385.48,416.48 L386.99,416.49 L388.50,416.50" fill="none" stroke="#ff0000" stroke-width="2" stroke-linejoin="round"/>
<path d="M59.80,233.70 L59.82,235.24 L59.85,236.78 L59.89,238.32 L59.94,239.85 L59.99,241.39 L60.06,242.92 L60.14,244.44 L60.23,245.97 L60.33,247.49 L60.43,249.01 L60.55,250.53 L60.68,252.05 L60.82,253.56 L60.97,255.07 L61.13,256.58 L61.31,258.09 L61.49,259.59 L61.68,261.10 L61.89,262.60 L62.10,264.10 L62.33,265.59 L62.57,267.09 L62.81,268.58 L63.08,270.07 L63.35,271.56 L63.63,273.05 L63.93,274.54 L64.23,276.02 L64.55,277.50 L64.88,278.98 L65.23,280.46 L65.58,281.94 L65.95,283.41 L66.33,284.89 L66.72,286.36 L67.13,287.83 L67.55,289.30 L67.98,290.77 L68.42,292.23 L68.87,293.70 L69.34,295.16 L69.83,296.62 L70.32,298.07 L70.84,299.52 L71.37,300.97 L71.92,302.40 L72.48,303.83 L73.07,305.25 L73.67,306.66 L74.30,308.05 L74.95,309.44 L75.62,310.81 L76.31,312.16 L77.03,313.50 L77.77,314.82 L78.55,316.12 L79.34,317.40 L80.17,318.66 L81.02,319.90 L81.91,321.11 L82.82,322.30 L83.77,323.47 L84.74,324.61 L85.75,325.72 L86.80,326.80 L86.80,326.80 L87.92,325.87 L89.04,324.92 L90.15,323.94 L91.26,322.94 L92.36,321.91 L93.45,320.86 L94.53,319.78 L95.59,318.68 L96.65,317.56 L97.69,316.41 L98.72,315.25 L99.72,314.06 L100.71,312.86 L101.68,311.63 L102.63,310.39 L103.55,309.12 L104.45,307.84 L105.33,306.54 L106.17,305.22 L106.99,303.89 L107.78,302.54 L108.54,301.18 L109.26,299.80 L109.94,298.41 L110.58,297.01 L111.17,295.59 L111.69,294.17 L112.15,292.74 L112.53,291.30 L112.83,289.87 L113.03,288.42 L113.14,286.98 L113.14,285.54 L113.03,284.11 L112.82,282.67 L112.51,281.24 L112.12,279.82 L111.64,278.41 L111.09,277.00 L110.46,275.61 L109.78,274.22 L109.04,272.85 L108.25,271.49 L107.43,270.15 L106.56,268.82 L105.67,267.51 L104.76,266.22 L103.83,264.95 L102.88,263.70 L101.92,262.46 L100.95,261.25 L99.96,260.05 L98.96,258.86 L97.95,257.69 L96.94,256.54 L95.91,255.40 L94.88,254.28 L93.84,253.17 L92.79,252.06 L91.74,250.97 L90.70,249.88 L89.65,248.80 L88.60,247.72 L87.56,246.63 L86.53,245.53 L85.50,244.43 L84.48,243.32 L83.48,242.20 L82.49,241.05 L81.51,239.89 L80.55,238.71 L79.60,237.50 L78.68,236.26 L77.78,235.00 L76.90,233.70" fill="none" stroke="#0000ff" stroke-width="2" stroke-dasharray="3.4,2.9"/></g>
<g><line x1="399.3" x2="729.0" y1="330.6" y2="330.6" stroke="#808080" stroke-opacity="0.75" stroke-width="1.9" stroke-dasharray="2,1.92" stroke-dashoffset="1.2"/>
<line x1="399.3" x2="729.0" y1="394.50" y2="394.50" stroke="#222" stroke-width="0.95"/>
<path d="M449.00,225.80 L449.29,227.49 L449.74,229.04 L450.34,230.46 L451.07,231.74 L451.92,232.90 L452.89,233.95 L453.95,234.89 L455.10,235.73 L456.33,236.47 L457.63,237.13 L458.98,237.71 L460.37,238.22 L461.80,238.66 L463.25,239.05 L464.73,239.38 L466.23,239.67 L467.75,239.92 L469.28,240.14 L470.83,240.34 L472.38,240.51 L473.94,240.68 L475.50,240.83 L477.06,240.99 L478.62,241.16 L480.16,241.34 L481.70,241.52 L483.24,241.72 L484.77,241.93 L486.29,242.15 L487.81,242.37 L489.33,242.61 L490.83,242.85 L492.34,243.10 L493.84,243.36 L495.33,243.63 L496.82,243.90 L498.31,244.19 L499.80,244.47 L501.28,244.77 L502.75,245.07 L504.23,245.38 L505.70,245.69 L507.17,246.01 L508.64,246.33 L510.10,246.66 L511.56,246.99 L513.03,247.32 L514.49,247.66 L515.95,248.00 L517.40,248.35 L518.86,248.70 L520.32,249.05 L521.77,249.40 L523.23,249.75 L524.69,250.11 L526.15,250.47 L527.60,250.82 L529.06,251.18 L530.52,251.54 L531.99,251.90 L533.45,252.26 L534.91,252.61 L536.38,252.97 L537.85,253.32 L539.32,253.68 L540.79,254.03 L542.27,254.38 L543.75,254.73 L545.23,255.08 L546.71,255.42 L548.20,255.77 L549.68,256.11 L551.17,256.46 L552.66,256.81 L554.15,257.16 L555.64,257.51 L557.13,257.86 L558.61,258.22 L560.10,258.57 L561.59,258.94 L563.08,259.30 L564.56,259.67 L566.05,260.04 L567.53,260.42 L569.01,260.80 L570.49,261.19 L571.97,261.58 L573.44,261.98 L574.91,262.39 L576.38,262.80 L577.84,263.22 L579.30,263.65 L580.76,264.09 L582.21,264.53 L583.66,264.99 L585.11,265.45 L586.55,265.92 L587.98,266.41 L589.41,266.90 L590.83,267.40 L592.25,267.92 L593.66,268.45 L595.07,268.99 L596.46,269.54 L597.86,270.10 L599.24,270.68 L600.62,271.27 L601.99,271.87 L603.35,272.49 L604.70,273.12 L606.05,273.77 L607.38,274.43 L608.70,275.13 L610.00,275.86 L611.26,276.65 L612.49,277.49 L613.68,278.41 L614.82,279.41 L615.90,280.50 L615.90,280.50 L615.36,281.91 L614.55,283.19 L613.55,284.37 L612.41,285.48 L611.22,286.58 L610.03,287.69 L608.92,288.85 L607.94,290.10 L607.18,291.48 L606.67,293.00 L606.42,294.59 L606.40,296.15 L606.61,297.59 L607.01,298.90 L607.61,300.08 L608.38,301.14 L609.30,302.10 L610.37,302.95 L611.56,303.72 L612.86,304.40 L614.26,305.01 L615.74,305.55 L617.28,306.04 L618.87,306.48 L620.49,306.88 L622.13,307.25 L623.78,307.60 L625.41,307.94 L627.03,308.26 L628.64,308.58 L630.24,308.89 L631.82,309.20 L633.39,309.50 L634.95,309.81 L636.50,310.12 L638.03,310.43 L639.56,310.75 L641.06,311.08 L642.56,311.42 L644.05,311.77 L645.52,312.14 L646.98,312.52 L648.42,312.93 L649.86,313.35 L651.28,313.80 L652.69,314.28 L654.09,314.79 L655.47,315.32 L656.84,315.89 L658.20,316.49 L659.55,317.13 L660.89,317.81 L662.21,318.53 L663.52,319.30 L664.82,320.11 L666.11,320.96 L667.38,321.87 L668.64,322.83 L669.88,323.83 L671.10,324.87 L672.28,325.95 L673.43,327.05 L674.54,328.18 L675.59,329.32 L676.59,330.48 L677.53,331.64 L678.40,332.80 L678.40,332.80 L677.27,333.83 L676.06,334.69 L674.78,335.42 L673.45,336.01 L672.07,336.49 L670.64,336.87 L669.18,337.16 L667.68,337.39 L666.17,337.57 L664.64,337.71 L663.10,337.82 L661.57,337.93 L660.03,338.04 L658.50,338.15 L656.98,338.25 L655.45,338.36 L653.93,338.46 L652.41,338.57 L650.89,338.67 L649.38,338.77 L647.86,338.88 L646.35,338.98 L644.84,339.08 L643.33,339.17 L641.83,339.27 L640.32,339.37 L638.82,339.46 L637.32,339.56 L635.82,339.65 L634.32,339.74 L632.82,339.83 L631.32,339.92 L629.82,340.01 L628.32,340.09 L626.83,340.17 L625.33,340.26 L623.83,340.34 L622.33,340.41 L620.83,340.49 L619.34,340.56 L617.84,340.64 L616.34,340.71 L614.84,340.77 L613.33,340.84 L611.83,340.90 L610.33,340.97 L608.82,341.03 L607.32,341.08 L605.82,341.14 L604.31,341.20 L602.80,341.25 L601.30,341.31 L599.79,341.36 L598.28,341.41 L596.77,341.46 L595.26,341.51 L593.75,341.56 L592.24,341.61 L590.73,341.66 L589.22,341.71 L587.71,341.75 L586.20,341.80 L584.69,341.85 L583.18,341.90 L581.66,341.95 L580.15,342.00 L578.64,342.05 L577.13,342.10 L575.61,342.15 L574.10,342.20 L572.59,342.25 L571.08,342.31 L569.56,342.36 L568.05,342.42 L566.54,342.48 L565.03,342.54 L563.51,342.60 L562.00,342.66 L560.49,342.73 L558.98,342.79 L557.47,342.86 L555.96,342.93 L554.45,343.01 L552.94,343.08 L551.43,343.16 L549.92,343.24 L548.41,343.33 L546.90,343.41 L545.39,343.50 L543.88,343.60 L542.37,343.69 L540.87,343.79 L539.36,343.89 L537.86,344.00 L536.35,344.11 L534.85,344.22 L533.34,344.34 L531.84,344.46 L530.34,344.59 L528.84,344.72 L527.34,344.85 L525.84,344.99 L524.34,345.13 L522.84,345.28 L521.35,345.43 L519.85,345.59 L518.35,345.75 L516.86,345.92 L515.37,346.09 L513.88,346.27 L512.39,346.45 L510.90,346.64 L509.41,346.84 L507.92,347.04 L506.44,347.25 L504.95,347.46 L503.47,347.68 L501.99,347.91 L500.51,348.16 L499.04,348.41 L497.56,348.68 L496.09,348.97 L494.62,349.27 L493.16,349.59 L491.70,349.93 L490.24,350.29 L488.79,350.67 L487.34,351.07 L485.90,351.50 L484.46,351.95 L483.03,352.44 L481.60,352.95 L480.18,353.49 L478.76,354.06 L477.35,354.66 L475.94,355.30 L474.54,355.97 L473.15,356.68 L471.76,357.43 L470.38,358.19 L469.00,358.96 L467.63,359.74 L466.25,360.50 L464.88,361.24 L463.50,361.95 L462.12,362.62 L460.73,363.23 L459.34,363.78 L457.93,364.24 L456.52,364.62 L455.10,364.91 L453.67,365.08 L452.22,365.13 L450.76,365.06 L449.28,364.84 L447.83,364.46 L446.46,363.91 L445.24,363.18 L444.24,362.25 L443.51,361.11 L443.05,359.83 L442.86,358.44 L442.94,357.00 L443.30,355.54 L443.91,354.09 L444.73,352.67 L445.72,351.28 L446.85,349.94 L448.08,348.65 L449.37,347.45 L450.70,346.33 L452.02,345.31 L453.29,344.40 L454.49,343.63 L455.57,342.99 L456.50,342.50" fill="none" stroke="#32cd32" stroke-width="2" stroke-dasharray="2,1.35"/>
<path d="M399.90,225.80 L399.91,227.34 L399.92,228.87 L399.93,230.41 L399.95,231.94 L399.98,233.47 L400.02,235.00 L400.06,236.54 L400.11,238.06 L400.18,239.59 L400.26,241.12 L400.35,242.64 L400.46,244.16 L400.58,245.67 L400.73,247.19 L400.89,248.70 L401.08,250.21 L401.28,251.71 L401.51,253.21 L401.77,254.70 L402.05,256.20 L402.35,257.68 L402.69,259.16 L403.05,260.64 L403.45,262.11 L403.88,263.58 L404.34,265.04 L404.84,266.49 L405.37,267.94 L405.94,269.38 L406.54,270.82 L407.15,272.25 L407.79,273.68 L408.44,275.10 L409.09,276.53 L409.75,277.95 L410.40,279.37 L411.05,280.79 L411.68,282.21 L412.30,283.63 L412.89,285.06 L413.46,286.48 L413.99,287.91 L414.48,289.35 L414.93,290.78 L415.33,292.23 L415.68,293.67 L415.96,295.13 L416.19,296.59 L416.34,298.06 L416.42,299.54 L416.42,301.03 L416.34,302.53 L416.18,304.04 L415.96,305.55 L415.69,307.07 L415.37,308.60 L415.02,310.13 L414.65,311.66 L414.26,313.19 L413.87,314.73 L413.48,316.26 L413.12,317.79 L412.78,319.32 L412.47,320.85 L412.22,322.37 L412.02,323.88 L411.89,325.39 L411.83,326.88 L411.87,328.37 L412.00,329.84 L412.24,331.29 L412.60,332.71 L413.08,334.09 L413.70,335.40 L414.47,336.65 L415.39,337.81 L416.47,338.88 L417.73,339.84 L419.17,340.69 L420.80,341.40 L420.80,341.40 L420.63,342.88 L420.42,344.36 L420.18,345.86 L419.93,347.37 L419.67,348.88 L419.40,350.40 L419.13,351.92 L418.88,353.44 L418.65,354.97 L418.45,356.49 L418.28,358.01 L418.15,359.52 L418.07,361.03 L418.05,362.52 L418.10,364.01 L418.21,365.49 L418.39,366.96 L418.63,368.41 L418.92,369.86 L419.28,371.29 L419.69,372.71 L420.15,374.11 L420.67,375.51 L421.23,376.89 L421.84,378.26 L422.49,379.61 L423.19,380.95 L423.93,382.28 L424.70,383.59 L425.51,384.89 L426.35,386.17 L427.23,387.43 L428.13,388.68 L429.06,389.91 L430.03,391.12 L431.02,392.30 L432.04,393.46 L433.08,394.59 L434.16,395.70 L435.26,396.77 L436.39,397.81 L437.54,398.82 L438.71,399.79 L439.91,400.72 L441.14,401.61 L442.38,402.46 L443.65,403.26 L444.94,404.02 L446.25,404.73 L447.58,405.40 L448.93,406.03 L450.30,406.62 L451.68,407.17 L453.08,407.69 L454.50,408.17 L455.92,408.61 L457.36,409.03 L458.81,409.42 L460.28,409.78 L461.75,410.11 L463.23,410.42 L464.71,410.71 L466.20,410.98 L467.70,411.23 L469.20,411.47 L470.71,411.69 L472.22,411.89 L473.73,412.09 L475.23,412.27 L476.74,412.45 L478.25,412.61 L479.76,412.77 L481.27,412.92 L482.78,413.06 L484.28,413.20 L485.79,413.32 L487.30,413.44 L488.81,413.55 L490.32,413.66 L491.83,413.76 L493.34,413.85 L494.85,413.94 L496.36,414.02 L497.86,414.09 L499.37,414.17 L500.88,414.23 L502.39,414.29 L503.90,414.35 L505.41,414.41 L506.92,414.46 L508.43,414.50 L509.94,414.55 L511.45,414.59 L512.96,414.63 L514.47,414.67 L515.98,414.71 L517.49,414.74 L519.00,414.77 L520.51,414.81 L522.02,414.84 L523.53,414.87 L525.04,414.90 L526.55,414.93 L528.06,414.96 L529.57,414.99 L531.08,415.02 L532.59,415.05 L534.10,415.07 L535.61,415.10 L537.12,415.13 L538.63,415.16 L540.14,415.18 L541.65,415.21 L543.16,415.23 L544.67,415.26 L546.18,415.28 L547.69,415.30 L549.20,415.33 L550.71,415.35 L552.22,415.37 L553.73,415.40 L555.24,415.42 L556.75,415.44 L558.27,415.46 L559.78,415.48 L561.29,415.50 L562.80,415.52 L564.31,415.54 L565.82,415.56 L567.33,415.58 L568.84,415.59 L570.35,415.61 L571.86,415.63 L573.37,415.65 L574.89,415.66 L576.40,415.68 L577.91,415.70 L579.42,415.71 L580.93,415.73 L582.44,415.74 L583.95,415.76 L585.46,415.77 L586.97,415.79 L588.49,415.80 L590.00,415.82 L591.51,415.83 L593.02,415.84 L594.53,415.86 L596.04,415.87 L597.55,415.88 L599.06,415.89 L600.57,415.91 L602.08,415.92 L603.60,415.93 L605.11,415.94 L606.62,415.95 L608.13,415.96 L609.64,415.98 L611.15,415.99 L612.66,416.00 L614.17,416.01 L615.68,416.02 L617.19,416.03 L618.71,416.04 L620.22,416.05 L621.73,416.06 L623.24,416.07 L624.75,416.07 L626.26,416.08 L627.77,416.09 L629.28,416.10 L630.79,416.11 L632.30,416.12 L633.81,416.13 L635.33,416.13 L636.84,416.14 L638.35,416.15 L639.86,416.16 L641.37,416.17 L642.88,416.17 L644.39,416.18 L645.90,416.19 L647.41,416.19 L648.92,416.20 L650.43,416.21 L651.94,416.21 L653.46,416.22 L654.97,416.23 L656.48,416.23 L657.99,416.24 L659.50,416.25 L661.01,416.25 L662.52,416.26 L664.03,416.26 L665.54,416.27 L667.05,416.28 L668.56,416.28 L670.07,416.29 L671.59,416.29 L673.10,416.30 L674.61,416.30 L676.12,416.31 L677.63,416.32 L679.14,416.32 L680.65,416.33 L682.16,416.33 L683.67,416.34 L685.18,416.34 L686.69,416.35 L688.20,416.35 L689.72,416.36 L691.23,416.36 L692.74,416.37 L694.25,416.37 L695.76,416.38 L697.27,416.38 L698.78,416.39 L700.29,416.39 L701.80,416.40 L703.31,416.40 L704.82,416.41 L706.34,416.42 L707.85,416.42 L709.36,416.43 L710.87,416.43 L712.38,416.44 L713.89,416.44 L715.40,416.45 L716.91,416.45 L718.42,416.46 L719.93,416.46 L721.44,416.47 L722.96,416.48 L724.47,416.48 L725.98,416.49 L727.49,416.49 L729.00,416.50" fill="none" stroke="#ff0000" stroke-width="2" stroke-linejoin="round"/>
<path d="M399.90,225.80 L399.92,227.26 L399.94,228.73 L399.96,230.21 L399.98,231.70 L400.00,233.21 L400.04,234.72 L400.07,236.23 L400.12,237.76 L400.18,239.28 L400.24,240.81 L400.32,242.35 L400.42,243.88 L400.53,245.41 L400.66,246.94 L400.81,248.47 L400.98,250.00 L401.17,251.52 L401.39,253.03 L401.63,254.54 L401.90,256.03 L402.20,257.52 L402.53,258.99 L402.89,260.46 L403.28,261.91 L403.71,263.34 L404.18,264.76 L404.68,266.16 L405.22,267.54 L405.81,268.91 L406.43,270.25 L407.10,271.57 L407.82,272.86 L408.58,274.14 L409.38,275.40 L410.21,276.64 L411.07,277.86 L411.95,279.08 L412.84,280.29 L413.74,281.50 L414.65,282.71 L415.56,283.93 L416.46,285.15 L417.35,286.38 L418.21,287.63 L419.06,288.89 L419.88,290.18 L420.66,291.48 L421.40,292.82 L422.09,294.18 L422.73,295.58 L423.32,297.01 L423.84,298.46 L424.28,299.93 L424.65,301.42 L424.93,302.91 L425.11,304.40 L425.20,305.89 L425.17,307.37 L425.03,308.82 L424.77,310.26 L424.37,311.67 L423.85,313.04 L423.24,314.40 L422.60,315.76 L422.00,317.16 L421.48,318.61 L421.10,320.14 L420.91,321.74 L420.89,323.39 L421.05,325.01 L421.37,326.58 L421.84,328.03 L422.46,329.37 L423.20,330.60 L424.07,331.73 L425.04,332.76 L426.12,333.70 L427.28,334.56 L428.52,335.35 L429.83,336.07 L431.19,336.72 L432.60,337.32 L434.05,337.87 L435.51,338.38 L437.00,338.85 L438.48,339.30 L439.97,339.71 L441.46,340.10 L442.94,340.46 L444.43,340.80 L445.92,341.11 L447.41,341.39 L448.90,341.65 L450.39,341.89 L451.89,342.10 L453.38,342.28 L454.87,342.45 L456.37,342.59 L457.86,342.70 L459.36,342.80 L460.85,342.87 L462.35,342.92 L463.85,342.95 L465.35,342.96 L466.85,342.95 L468.35,342.91 L469.85,342.86 L471.35,342.79 L472.85,342.70 L474.35,342.59 L475.86,342.46 L477.36,342.31 L478.87,342.15 L480.37,341.97 L481.88,341.77 L483.39,341.55 L484.89,341.32 L486.40,341.07 L487.91,340.81 L489.42,340.53 L490.93,340.24 L492.44,339.94 L493.95,339.61 L495.47,339.28 L496.98,338.93 L498.49,338.57 L499.97,338.17 L501.36,337.70 L502.63,337.13 L503.72,336.42 L504.58,335.55 L505.17,334.47 L505.45,333.16 L505.38,331.60 L505.06,329.93 L504.63,328.29 L504.12,326.73 L503.53,325.23 L502.86,323.81 L502.12,322.46 L501.32,321.16 L500.46,319.93 L499.54,318.76 L498.56,317.64 L497.54,316.57 L496.48,315.53 L495.38,314.53 L494.26,313.55 L493.11,312.59 L491.95,311.64 L490.78,310.69 L489.61,309.75 L488.44,308.79 L487.29,307.82 L486.14,306.83 L485.02,305.81 L483.93,304.75 L482.87,303.65 L481.86,302.50 L480.89,301.29 L480.02,300.03 L479.28,298.72 L478.72,297.36 L478.39,295.95 L478.32,294.51 L478.47,293.02 L478.79,291.52 L479.21,289.99 L479.70,288.46 L480.18,286.94 L480.61,285.42 L480.92,283.92 L481.08,282.45 L481.01,281.00 L480.67,279.58 L480.10,278.21 L479.36,276.88 L478.51,275.60 L477.59,274.38 L476.62,273.21 L475.61,272.08 L474.57,271.00 L473.49,269.96 L472.38,268.96 L471.24,267.99 L470.07,267.05 L468.88,266.13 L467.67,265.23 L466.45,264.34 L465.22,263.47 L463.98,262.61 L462.73,261.75 L461.48,260.89 L460.23,260.02 L458.98,259.15 L457.74,258.27 L456.52,257.36 L455.31,256.44 L454.10,255.51 L452.91,254.57 L451.72,253.62 L450.53,252.68 L449.33,251.75 L448.13,250.84 L446.92,249.96 L445.69,249.10 L444.44,248.28 L443.18,247.51 L441.88,246.79 L440.56,246.12 L439.21,245.50 L437.84,244.92 L436.45,244.37 L435.05,243.84 L433.64,243.30 L432.23,242.76 L430.81,242.20 L429.41,241.60 L428.01,240.97 L426.63,240.27 L425.27,239.51 L423.95,238.68 L422.69,237.77 L421.52,236.79 L420.46,235.73 L419.53,234.58 L418.74,233.35 L418.14,232.03 L417.73,230.62 L417.53,229.11 L417.59,227.50 L417.90,225.80" fill="none" stroke="#0000ff" stroke-width="2" stroke-dasharray="3.4,2.9"/></g>
<text x="65.6" y="216.6" font-size="14.50" fill="#ff0000" text-anchor="start" font-style="italic" >No COs</text>
<text x="219.1" y="214.7" font-size="14.50" fill="#ff0000" text-anchor="start" >ISCO</text>
<text x="405.6" y="216.6" font-size="14.50" fill="#ff0000" text-anchor="start" font-style="italic" >No COs</text>
<text x="559.1" y="214.7" font-size="14.50" fill="#ff0000" text-anchor="start" >ISCO</text>
<text x="65.6" y="415.2" font-size="14.50" fill="#ff0000" text-anchor="start" font-style="italic" >No COs</text>
<text x="219.1" y="413.3" font-size="14.50" fill="#ff0000" text-anchor="start" >ISCO</text>
<text x="405.6" y="415.2" font-size="14.50" fill="#ff0000" text-anchor="start" font-style="italic" >No COs</text>
<text x="559.1" y="413.3" font-size="14.50" fill="#ff0000" text-anchor="start" >ISCO</text>
<text x="113.3" y="144.5" font-size="14.10" fill="#ffcc00" text-anchor="start" font-style="italic" >UCOs</text>
<text x="453.3" y="144.5" font-size="14.10" fill="#ffcc00" text-anchor="start" font-style="italic" >UCOs</text>
<text x="140.1" y="288.5" font-size="14.10" fill="#ffcc00" text-anchor="start" font-style="italic" >UCOs</text>
<text x="527.0" y="302.0" font-size="14.10" fill="#ffcc00" text-anchor="start" font-style="italic" >UCOs</text>
<text x="271.9" y="138.0" font-size="14.10" fill="#32cd32" text-anchor="start" font-style="italic" >SCOs</text>
<text x="612.2" y="138.2" font-size="14.10" fill="#32cd32" text-anchor="start" font-style="italic" >SCOs</text>
<text x="271.9" y="336.0" font-size="14.10" fill="#32cd32" text-anchor="start" font-style="italic" >SCOs</text>
<text x="666.1" y="285.6" font-size="14.10" fill="#32cd32" text-anchor="start" font-style="italic" >SCOs</text>
<text x="80.5" y="53.0" font-size="14.50" fill="#0000ff" text-anchor="start" transform="rotate(68.0 80.5 53.0)" >LRs</text>
<text x="421.0" y="42.3" font-size="14.50" fill="#0000ff" text-anchor="start" transform="rotate(59.0 421.0 42.3)" >LRs</text>
<text x="87.0" y="241.6" font-size="14.50" fill="#0000ff" text-anchor="start" transform="rotate(49.0 87.0 241.6)" >LRs</text>
<text x="429.5" y="238.0" font-size="14.50" fill="#0000ff" text-anchor="start" transform="rotate(30.0 429.5 238.0)" >LRs</text>
<text x="70.2" y="82.3" font-size="14.50" fill="#ff0000" text-anchor="start" font-style="italic" transform="rotate(77.5 70.2 82.3)" >No COs</text>
<text x="410.8" y="83.0" font-size="14.50" fill="#ff0000" text-anchor="start" font-style="italic" transform="rotate(77.0 410.8 83.0)" >No COs</text>
<text x="69.8" y="263.0" font-size="14.50" fill="#ff0000" text-anchor="start" font-style="italic" transform="rotate(54.5 69.8 263.0)" >No COs</text>
<text x="433.0" y="284.0" font-size="14.50" fill="#ff0000" text-anchor="start" font-style="italic" transform="rotate(40.5 433.0 284.0)" >No COs</text>
<text x="381.9" y="43.9" font-size="14.4" text-anchor="end" fill="#000">Mini-BSs ≈<tspan dx="0.9"> </tspan>f<tspan font-size="11.5" dy="3.4">a</tspan><tspan dy="-3.4" dx="-0.5"> =</tspan><tspan dx="-0.3"> 1.00</tspan></text>
<text x="714.6" y="44.2" font-size="14.4" text-anchor="end" fill="#000">f<tspan font-size="11.5" dy="3.4">a</tspan><tspan dy="-3.4" dx="-0.5"> =</tspan><tspan dx="-0.3"> 0.10</tspan></text>
<text x="374.0" y="242.8" font-size="14.4" text-anchor="end" fill="#000">f<tspan font-size="11.5" dy="3.4">a</tspan><tspan dy="-3.4" dx="-0.5"> =</tspan><tspan dx="-0.3"> 0.05</tspan></text>
<text x="714.5" y="242.8" font-size="14.4" text-anchor="end" fill="#000">f<tspan font-size="11.5" dy="3.4">a</tspan><tspan dy="-3.4" dx="-0.5"> =</tspan><tspan dx="-0.3"> 0.03</tspan></text>
<g><rect x="48.5" y="23.3" width="680.5" height="396.9" fill="none" stroke="#1c1c1c" stroke-width="1.25"/>
<line x1="388.5" x2="388.5" y1="23.3" y2="420.2" stroke="#1c1c1c" stroke-width="1.25"/>
<line x1="48.5" x2="729.0" y1="221.8" y2="221.8" stroke="#1c1c1c" stroke-width="1.25"/></g>
<text x="61.5" y="434.9" font-size="15.40" fill="#000" text-anchor="middle" >0</text>
<text x="167.8" y="434.9" font-size="15.40" fill="#000" text-anchor="middle" >10</text>
<text x="274.1" y="434.9" font-size="15.40" fill="#000" text-anchor="middle" >20</text>
<text x="380.4" y="434.9" font-size="15.40" fill="#000" text-anchor="middle" >30</text>
<text x="401.5" y="434.9" font-size="15.40" fill="#000" text-anchor="middle" >0</text>
<text x="507.8" y="434.9" font-size="15.40" fill="#000" text-anchor="middle" >10</text>
<text x="614.1" y="434.9" font-size="15.40" fill="#000" text-anchor="middle" >20</text>
<text x="720.4" y="434.9" font-size="15.40" fill="#000" text-anchor="middle" >30</text>
<text x="42.6" y="52.5" font-size="15.40" fill="#000" text-anchor="end" >0.5</text>
<text x="42.6" y="137.7" font-size="15.40" fill="#000" text-anchor="end" >0.25</text>
<text x="42.6" y="222.9" font-size="15.40" fill="#000" text-anchor="end" >0</text>
<text x="42.6" y="250.0" font-size="15.40" fill="#000" text-anchor="end" >0.5</text>
<text x="42.6" y="335.8" font-size="15.40" fill="#000" text-anchor="end" >0.25</text>
<text x="42.6" y="421.5" font-size="15.40" fill="#000" text-anchor="end" >0</text>
<text x="208.6" y="447.7" font-size="17.5" fill="#000">r<tspan dx="-1.3">μ</tspan><tspan font-size="14.0" dy="4.3" dx="0.3">a</tspan></text>
<text x="548.6" y="447.7" font-size="17.5" fill="#000">r<tspan dx="-1.3">μ</tspan><tspan font-size="14.0" dy="4.3" dx="0.3">a</tspan></text>
<ellipse cx="7.7" cy="134.3" rx="3.3" ry="3.9" fill="none" stroke="#000" stroke-width="1.3"/><line x1="2.0" x2="13.4" y1="134.3" y2="134.3" stroke="#000" stroke-width="1.1"/><text x="16.4" y="129.8" font-size="13.7" fill="#000" transform="rotate(-90 16.4 129.8)">max</text>
<ellipse cx="7.7" cy="332.8" rx="3.3" ry="3.9" fill="none" stroke="#000" stroke-width="1.3"/><line x1="2.0" x2="13.4" y1="332.8" y2="332.8" stroke="#000" stroke-width="1.1"/><text x="16.4" y="328.3" font-size="13.7" fill="#000" transform="rotate(-90 16.4 328.3)">max</text>
</svg>
</body></html>
